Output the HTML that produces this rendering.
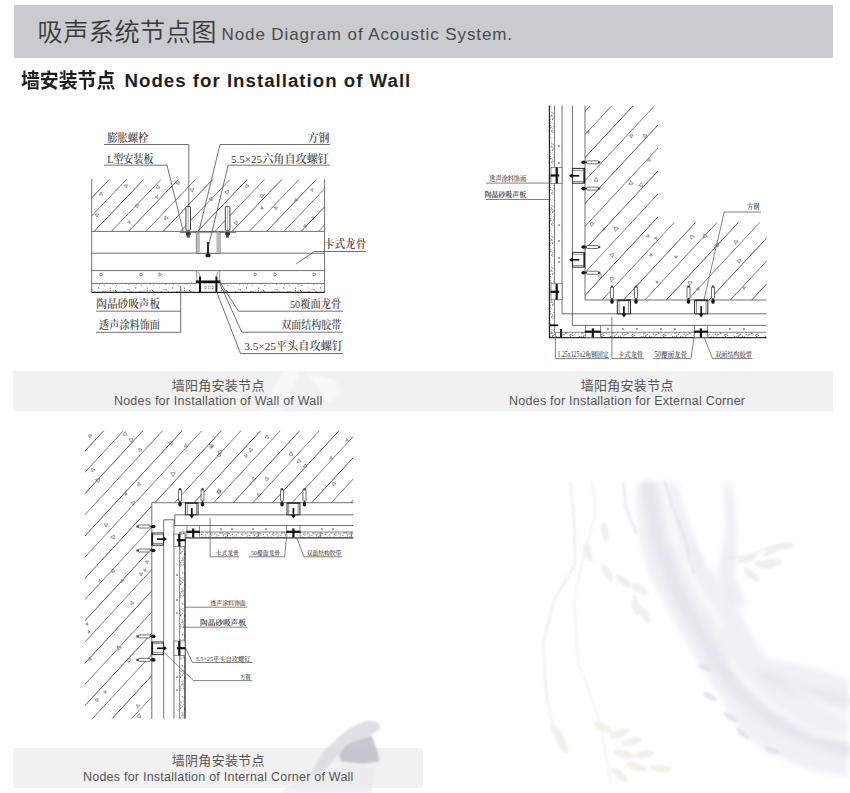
<!DOCTYPE html>
<html lang="zh-CN">
<head>
<meta charset="utf-8">
<title>吸声系统节点图 Node Diagram of Acoustic System</title>
<style>
html,body{margin:0;padding:0;background:#fff;}
body{width:850px;height:793px;position:relative;overflow:hidden;font-family:"Liberation Sans","Noto Sans CJK SC",sans-serif;color:#333;}
.hdr{position:absolute;left:14px;top:5px;width:819px;height:53px;background:#c9cbce;}
.hdr .cn{position:absolute;left:23.5px;top:11.5px;font-size:25.2px;line-height:30px;letter-spacing:0.45px;color:#3a3a3a;white-space:nowrap;font-weight:350;}
.hdr .en{position:absolute;left:207.5px;top:19.5px;font-size:17px;line-height:20px;letter-spacing:0.9px;color:#4a4a4a;white-space:nowrap;}
.h2{position:absolute;left:21px;top:66.5px;font-size:18.5px;line-height:28px;font-weight:bold;color:#1f1f1f;white-space:nowrap;}
.h2 .c{display:inline-block;font-size:20.5px;transform:scaleX(0.92);transform-origin:0 50%;width:93px;}
.h2 .e{letter-spacing:1.0px;margin-left:10.5px;font-size:18.7px;position:relative;top:-1px;}
.bar{position:absolute;background:#f1f1f1;}
.cap{position:absolute;z-index:2;text-align:center;white-space:nowrap;color:#444;}
.cap .c{position:absolute;left:0;width:300px;font-size:13px;line-height:16px;letter-spacing:0.3px;color:#555;}
.cap .e{position:absolute;left:0;width:300px;font-size:12.5px;line-height:16px;letter-spacing:0.23px;color:#555;}
svg{position:absolute;left:0;top:0;}
.wm{position:absolute;left:0;top:0;}
</style>
</head>
<body>
<div class="hdr"><span class="cn">吸声系统节点图</span><span class="en">Node Diagram of Acoustic System.</span></div>
<div class="h2"><span class="c">墙安装节点</span><span class="e">Nodes for Installation of Wall</span></div>

<div class="bar" style="left:13px;top:371px;width:820px;height:40px;"></div>
<div class="bar" style="left:13px;top:748px;width:410px;height:40px;border-radius:3px;"></div>
<svg width="850" height="793" viewBox="0 0 850 793">
<defs><filter id="b3" x="-20%" y="-20%" width="140%" height="140%"><feGaussianBlur stdDeviation="3"/></filter><filter id="b1" x="-20%" y="-20%" width="140%" height="140%"><feGaussianBlur stdDeviation="1.2"/></filter></defs>
<g filter="url(#b3)">
<path d="M635.9,482.4 L677.1,482.4 L687.4,519.4 L705.9,564.7 L730.6,593.5 L751.2,634.7 L767.6,659.4 L812.9,667.6 L847.9,677.9 L847.9,776.8 L812.9,770.6 L771.8,754.1 L742.9,733.5 L722.4,700.6 L693.5,655.3 L672.9,618.2 L648.2,572.9 L637.9,531.8 Z" fill="#eceef3" fill-opacity="0.85"/>
<path d="M648.2,486.5 L656.5,535.9 L677.1,589.4 L705.9,642.9 L738.8,692.4 L780.0,725.3 L845.9,750.0" fill="none" stroke="#e1e4ec" stroke-width="14" stroke-opacity="0.8" stroke-linecap="round" stroke-linejoin="round"/>
<path d="M763.5,675.9 L804.7,692.4 L845.9,700.6" fill="none" stroke="#e3e6ed" stroke-width="12" stroke-opacity="0.8" stroke-linecap="round" stroke-linejoin="round"/>
<path d="M664.7,486.5 L672.9,531.8 L693.5,581.2 L722.4,626.5" fill="none" stroke="#ffffff" stroke-width="5" stroke-opacity="0.7" stroke-linecap="round" stroke-linejoin="round"/>
<path d="M730.6,663.5 L763.5,700.6 L812.9,733.5 L845.9,737.6" fill="none" stroke="#ffffff" stroke-width="5" stroke-opacity="0.7" stroke-linecap="round" stroke-linejoin="round"/>
<path d="M788.2,684.1 L845.9,717.1" fill="none" stroke="#ffffff" stroke-width="4" stroke-opacity="0.6" stroke-linecap="round" stroke-linejoin="round"/>
<path d="M724.4,482.4 L731.4,482.4 L736.8,531.8 L734.7,577.1 L747.1,605.9 L730.6,605.9 L718.2,572.9 L725.6,531.8 Z" fill="#e6e8ee" fill-opacity="0.7"/>
</g>
<g filter="url(#b1)">
<path d="M570.0,482.4 L574.1,519.4 L574.9,564.7 L553.5,601.8 L543.2,642.9 L546.1,692.4 L555.6,737.6" fill="none" stroke="#ececf0" stroke-width="2.2" stroke-opacity="0.8" stroke-linecap="round" stroke-linejoin="round"/>
<path d="M592.6,482.4 L595.5,515.3 L584.4,552.4 L574.1,601.8 L578.2,663.5 L598.8,717.1 L611.2,782.9" fill="none" stroke="#eeeef2" stroke-width="1.8" stroke-opacity="0.8" stroke-linecap="round" stroke-linejoin="round"/>
<path d="M623.5,482.4 L625.6,507.1 L635.9,531.8" fill="none" stroke="#e8e9ee" stroke-width="3" stroke-opacity="0.8" stroke-linecap="round" stroke-linejoin="round"/>
<path d="M664.7,482.4 L672.9,507.1 L685.3,540.0 L693.5,572.9" fill="none" stroke="#e4e6ec" stroke-width="3" stroke-opacity="0.8" stroke-linecap="round" stroke-linejoin="round"/>
<path d="M722.4,558.5 L747.1,556.5 L771.8,546.2 L788.2,544.1" fill="none" stroke="#e9eaee" stroke-width="2" stroke-opacity="0.8" stroke-linecap="round" stroke-linejoin="round"/>
<ellipse cx="602.9" cy="727.3" rx="10.7" ry="3.7" transform="rotate(30 602.9 727.3)" fill="#f1eee8" fill-opacity="0.9"/>
<ellipse cx="619.4" cy="733.5" rx="10.7" ry="3.7" transform="rotate(-20 619.4 733.5)" fill="#f1eee8" fill-opacity="0.9"/>
<ellipse cx="631.8" cy="741.8" rx="10.7" ry="3.7" transform="rotate(-15 631.8 741.8)" fill="#f1eee8" fill-opacity="0.9"/>
<ellipse cx="623.5" cy="754.1" rx="10.7" ry="3.7" transform="rotate(10 623.5 754.1)" fill="#f1eee8" fill-opacity="0.9"/>
<ellipse cx="644.1" cy="754.1" rx="10.7" ry="3.7" transform="rotate(-10 644.1 754.1)" fill="#f1eee8" fill-opacity="0.9"/>
<ellipse cx="635.9" cy="766.5" rx="10.7" ry="3.7" transform="rotate(15 635.9 766.5)" fill="#f1eee8" fill-opacity="0.9"/>
<ellipse cx="660.6" cy="768.5" rx="10.7" ry="3.7" transform="rotate(5 660.6 768.5)" fill="#f1eee8" fill-opacity="0.9"/>
<ellipse cx="619.4" cy="774.7" rx="10.7" ry="3.7" transform="rotate(40 619.4 774.7)" fill="#f1eee8" fill-opacity="0.9"/>
<ellipse cx="557.6" cy="733.5" rx="10.7" ry="3.7" transform="rotate(50 557.6 733.5)" fill="#f1eee8" fill-opacity="0.9"/>
<ellipse cx="561.8" cy="743.8" rx="10.7" ry="3.7" transform="rotate(60 561.8 743.8)" fill="#f1eee8" fill-opacity="0.9"/>
<ellipse cx="747.1" cy="558.5" rx="9.9" ry="3.7" transform="rotate(-20 747.1 558.5)" fill="#f0eeea" fill-opacity="0.9"/>
<ellipse cx="763.5" cy="564.7" rx="9.9" ry="3.7" transform="rotate(10 763.5 564.7)" fill="#f0eeea" fill-opacity="0.9"/>
<ellipse cx="771.8" cy="550.3" rx="9.9" ry="3.7" transform="rotate(-30 771.8 550.3)" fill="#f0eeea" fill-opacity="0.9"/>
<ellipse cx="784.1" cy="546.2" rx="9.9" ry="3.7" transform="rotate(-10 784.1 546.2)" fill="#f0eeea" fill-opacity="0.9"/>
<ellipse cx="751.2" cy="575.0" rx="9.9" ry="3.7" transform="rotate(40 751.2 575.0)" fill="#f0eeea" fill-opacity="0.9"/>
<ellipse cx="771.8" cy="562.6" rx="9.9" ry="3.7" transform="rotate(0 771.8 562.6)" fill="#f0eeea" fill-opacity="0.9"/>
<ellipse cx="588.5" cy="552.4" rx="9.9" ry="3.7" transform="rotate(70 588.5 552.4)" fill="#eeeeee" fill-opacity="0.9"/>
<ellipse cx="607.1" cy="572.9" rx="9.9" ry="3.7" transform="rotate(60 607.1 572.9)" fill="#eeeeee" fill-opacity="0.9"/>
<ellipse cx="623.5" cy="581.2" rx="9.9" ry="3.7" transform="rotate(40 623.5 581.2)" fill="#eeeeee" fill-opacity="0.9"/>
<ellipse cx="640.0" cy="589.4" rx="9.9" ry="3.7" transform="rotate(30 640.0 589.4)" fill="#eeeeee" fill-opacity="0.9"/>
<ellipse cx="644.1" cy="614.1" rx="9.9" ry="3.7" transform="rotate(60 644.1 614.1)" fill="#eeeeee" fill-opacity="0.9"/>
<ellipse cx="635.9" cy="605.9" rx="9.9" ry="3.7" transform="rotate(80 635.9 605.9)" fill="#eeeeee" fill-opacity="0.9"/>
<ellipse cx="693.5" cy="564.7" rx="9.9" ry="3.7" transform="rotate(50 693.5 564.7)" fill="#eeeeee" fill-opacity="0.9"/>
<ellipse cx="697.6" cy="556.5" rx="9.9" ry="3.7" transform="rotate(60 697.6 556.5)" fill="#eeeeee" fill-opacity="0.9"/>
<ellipse cx="605.0" cy="531.8" rx="9.9" ry="3.7" transform="rotate(80 605.0 531.8)" fill="#eeeeee" fill-opacity="0.9"/>
<ellipse cx="705.9" cy="667.6" rx="8.2" ry="2.9" transform="rotate(20 705.9 667.6)" fill="#e2e4ea" fill-opacity="0.9"/>
<ellipse cx="710.0" cy="696.5" rx="8.2" ry="2.9" transform="rotate(30 710.0 696.5)" fill="#e2e4ea" fill-opacity="0.9"/>
<ellipse cx="730.6" cy="717.1" rx="8.2" ry="2.9" transform="rotate(30 730.6 717.1)" fill="#e2e4ea" fill-opacity="0.9"/>
<ellipse cx="771.8" cy="750.0" rx="8.2" ry="2.9" transform="rotate(20 771.8 750.0)" fill="#e2e4ea" fill-opacity="0.9"/>
<ellipse cx="742.9" cy="733.5" rx="8.2" ry="2.9" transform="rotate(40 742.9 733.5)" fill="#e2e4ea" fill-opacity="0.9"/>
</g>
<g filter="url(#b1)">
<path d="M308.2,776.7 L325.1,749.5 L348.3,728.8 L366.5,720.5 L378.1,722.3 L380.7,728.8 L363.9,737.9 L345.8,748.2 L335.4,757.3 L327.6,767.6 L317.3,778.0 Z" fill="#d9dae0" fill-opacity="0.85"/>
<path d="M339.3,754.7 L345.8,745.6 L371.6,735.3 L376.8,749.5 L379.4,761.2 L363.9,763.8 L340.6,761.2 Z" fill="#bcbdc7" fill-opacity="0.85"/>
<path d="M281.1,793.0 L291.4,783.2 L312.1,772.8 L358.7,765.1 L374.2,767.6 L371.6,793.0 Z" fill="#e9e9ec" fill-opacity="0.7"/>
</g>
<g filter="url(#b1)">
<path d="M262.0,411.0 L283.0,371.0 L300.0,371.0 L282.0,411.0 Z" fill="#fafafa" fill-opacity="0.8"/>
<path d="M305.0,373.0 L335.0,380.0 L342.0,392.0 L330.0,404.0 L318.0,388.0 Z" fill="#fafafa" fill-opacity="0.8"/>
</g>
</svg>
<div class="cap" style="left:68.2px;top:371px;width:300px;"><div class="c" style="top:6.5px">墙阳角安装节点</div><div class="e" style="top:22px">Nodes for Installation of Wall of Wall</div></div>
<div class="cap" style="left:477.2px;top:371px;width:300px;"><div class="c" style="top:6.5px">墙阳角安装节点</div><div class="e" style="top:22px">Nodes for Installation for External Corner</div></div>

<div class="cap" style="left:68.3px;top:747px;width:300px;"><div class="c" style="top:6px">墙阴角安装节点</div><div class="e" style="top:21.5px">Nodes for Installation of Internal Corner of Wall</div></div>

<svg width="850" height="793" viewBox="0 0 850 793">
<defs>
<pattern id="stip" width="37" height="37" patternUnits="userSpaceOnUse"><circle cx="12.0" cy="5.6" r="0.50" fill="#666"/><circle cx="2.7" cy="19.8" r="0.41" fill="#666"/><circle cx="2.1" cy="18.8" r="0.31" fill="#666"/><circle cx="16.0" cy="2.6" r="0.33" fill="#666"/><circle cx="15.7" cy="30.6" r="0.34" fill="#666"/><circle cx="8.3" cy="23.2" r="0.58" fill="#666"/><circle cx="21.4" cy="14.7" r="0.59" fill="#666"/><circle cx="1.7" cy="31.8" r="0.39" fill="#666"/><circle cx="5.3" cy="4.4" r="0.39" fill="#666"/><circle cx="30.2" cy="6.7" r="0.47" fill="#666"/><circle cx="23.6" cy="13.8" r="0.46" fill="#666"/><circle cx="2.3" cy="2.2" r="0.36" fill="#666"/><circle cx="25.2" cy="15.8" r="0.39" fill="#666"/><circle cx="21.7" cy="16.8" r="0.39" fill="#666"/><circle cx="29.4" cy="25.9" r="0.37" fill="#666"/><circle cx="21.3" cy="19.4" r="0.56" fill="#666"/><circle cx="27.0" cy="10.7" r="0.59" fill="#666"/><circle cx="4.4" cy="15.5" r="0.53" fill="#666"/><circle cx="5.6" cy="18.1" r="0.31" fill="#666"/><circle cx="24.7" cy="28.3" r="0.47" fill="#666"/><circle cx="32.4" cy="11.6" r="0.51" fill="#666"/><circle cx="22.0" cy="21.5" r="0.44" fill="#666"/><circle cx="31.1" cy="35.0" r="0.44" fill="#666"/><circle cx="24.6" cy="2.2" r="0.51" fill="#666"/><circle cx="23.9" cy="36.7" r="0.55" fill="#666"/><circle cx="10.5" cy="14.3" r="0.50" fill="#666"/><circle cx="0.8" cy="17.1" r="0.35" fill="#666"/><circle cx="4.3" cy="2.2" r="0.53" fill="#666"/><circle cx="4.8" cy="9.2" r="0.42" fill="#666"/><circle cx="32.2" cy="3.0" r="0.43" fill="#666"/><circle cx="20.3" cy="32.7" r="0.55" fill="#666"/><circle cx="32.0" cy="10.3" r="0.42" fill="#666"/><circle cx="13.3" cy="32.7" r="0.59" fill="#666"/><circle cx="5.6" cy="6.5" r="0.37" fill="#666"/><circle cx="8.6" cy="17.9" r="0.48" fill="#666"/><circle cx="9.7" cy="0.2" r="0.43" fill="#666"/><circle cx="13.7" cy="21.0" r="0.59" fill="#666"/><circle cx="25.5" cy="19.1" r="0.49" fill="#666"/><circle cx="25.0" cy="2.0" r="0.57" fill="#666"/><circle cx="28.9" cy="32.4" r="0.54" fill="#666"/><circle cx="14.5" cy="14.8" r="0.33" fill="#666"/><circle cx="23.5" cy="2.3" r="0.32" fill="#666"/><circle cx="7.7" cy="6.0" r="0.40" fill="#666"/><circle cx="1.9" cy="0.0" r="0.35" fill="#666"/><circle cx="3.8" cy="13.5" r="0.31" fill="#666"/><circle cx="32.4" cy="22.7" r="0.34" fill="#666"/><circle cx="9.3" cy="12.9" r="0.41" fill="#666"/><circle cx="4.5" cy="31.4" r="0.60" fill="#666"/><circle cx="17.2" cy="17.9" r="0.33" fill="#666"/><circle cx="3.8" cy="12.7" r="0.38" fill="#666"/><circle cx="30.7" cy="6.0" r="0.31" fill="#666"/><circle cx="35.2" cy="19.5" r="0.34" fill="#666"/><circle cx="20.1" cy="1.0" r="0.46" fill="#666"/><circle cx="36.2" cy="31.9" r="0.51" fill="#666"/><circle cx="9.7" cy="13.6" r="0.35" fill="#666"/><circle cx="28.6" cy="19.7" r="0.53" fill="#666"/><circle cx="12.2" cy="8.3" r="0.54" fill="#666"/><circle cx="36.4" cy="31.5" r="0.54" fill="#666"/><circle cx="30.3" cy="27.4" r="0.37" fill="#666"/><circle cx="19.2" cy="13.2" r="0.31" fill="#666"/><circle cx="1.0" cy="10.3" r="0.38" fill="#666"/><circle cx="25.6" cy="35.4" r="0.43" fill="#666"/><circle cx="34.7" cy="36.6" r="0.59" fill="#666"/><circle cx="13.5" cy="8.2" r="0.37" fill="#666"/><circle cx="7.3" cy="7.6" r="0.49" fill="#666"/><circle cx="33.3" cy="31.1" r="0.44" fill="#666"/><circle cx="24.2" cy="29.6" r="0.33" fill="#666"/><circle cx="24.4" cy="33.7" r="0.53" fill="#666"/><circle cx="27.8" cy="17.7" r="0.35" fill="#666"/><circle cx="29.2" cy="12.3" r="0.54" fill="#666"/><circle cx="36.0" cy="14.6" r="0.42" fill="#666"/><circle cx="35.0" cy="26.8" r="0.35" fill="#666"/><circle cx="4.7" cy="5.6" r="0.57" fill="#666"/><circle cx="29.8" cy="5.4" r="0.55" fill="#666"/><circle cx="36.3" cy="24.3" r="0.41" fill="#666"/><circle cx="20.3" cy="4.8" r="0.30" fill="#666"/><circle cx="35.9" cy="24.0" r="0.46" fill="#666"/><circle cx="34.5" cy="16.1" r="0.56" fill="#666"/><circle cx="30.6" cy="7.8" r="0.38" fill="#666"/><circle cx="10.8" cy="8.9" r="0.48" fill="#666"/><circle cx="9.6" cy="15.5" r="0.34" fill="#666"/><circle cx="33.7" cy="13.1" r="0.44" fill="#666"/><circle cx="21.6" cy="33.5" r="0.43" fill="#666"/><circle cx="34.0" cy="18.6" r="0.46" fill="#666"/><circle cx="19.4" cy="0.7" r="0.43" fill="#666"/><circle cx="6.8" cy="0.1" r="0.54" fill="#666"/><circle cx="6.4" cy="17.5" r="0.52" fill="#666"/><circle cx="20.6" cy="12.1" r="0.46" fill="#666"/><circle cx="20.6" cy="29.0" r="0.33" fill="#666"/><circle cx="20.7" cy="9.2" r="0.38" fill="#666"/><circle cx="28.6" cy="18.8" r="0.47" fill="#666"/><circle cx="28.1" cy="33.8" r="0.43" fill="#666"/><circle cx="22.7" cy="18.7" r="0.45" fill="#666"/><circle cx="25.6" cy="16.7" r="0.46" fill="#666"/><circle cx="17.7" cy="34.8" r="0.51" fill="#666"/><circle cx="32.4" cy="34.9" r="0.38" fill="#666"/><circle cx="20.7" cy="34.9" r="0.55" fill="#666"/><circle cx="5.1" cy="4.5" r="0.43" fill="#666"/><circle cx="2.7" cy="8.9" r="0.32" fill="#666"/><circle cx="24.8" cy="29.0" r="0.57" fill="#666"/><circle cx="5.7" cy="26.5" r="0.50" fill="#666"/><circle cx="5.3" cy="32.7" r="0.59" fill="#666"/><circle cx="8.1" cy="35.2" r="0.42" fill="#666"/><circle cx="18.0" cy="36.6" r="0.55" fill="#666"/><circle cx="6.0" cy="16.0" r="0.45" fill="#666"/><circle cx="12.5" cy="7.2" r="0.40" fill="#666"/><circle cx="26.7" cy="0.7" r="0.47" fill="#666"/><circle cx="16.3" cy="0.7" r="0.40" fill="#666"/><circle cx="23.1" cy="19.0" r="0.32" fill="#666"/><circle cx="36.4" cy="29.2" r="0.59" fill="#666"/><circle cx="3.9" cy="9.8" r="0.31" fill="#666"/><circle cx="28.8" cy="10.0" r="0.34" fill="#666"/><circle cx="15.6" cy="33.7" r="0.55" fill="#666"/><circle cx="9.6" cy="5.5" r="0.58" fill="#666"/><circle cx="21.1" cy="25.9" r="0.33" fill="#666"/><circle cx="2.1" cy="25.5" r="0.43" fill="#666"/><circle cx="2.7" cy="34.7" r="0.49" fill="#666"/><circle cx="29.7" cy="3.1" r="0.56" fill="#666"/><circle cx="2.5" cy="31.9" r="0.44" fill="#666"/><circle cx="12.5" cy="20.5" r="0.58" fill="#666"/><circle cx="9.9" cy="4.8" r="0.46" fill="#666"/><circle cx="8.8" cy="4.0" r="0.35" fill="#666"/><circle cx="1.9" cy="7.5" r="0.39" fill="#666"/><circle cx="11.3" cy="28.1" r="0.39" fill="#666"/><circle cx="18.5" cy="6.6" r="0.40" fill="#666"/><circle cx="0.7" cy="9.3" r="0.30" fill="#666"/><circle cx="27.1" cy="20.4" r="0.36" fill="#666"/><circle cx="17.6" cy="34.6" r="0.33" fill="#666"/><circle cx="30.3" cy="16.0" r="0.45" fill="#666"/><circle cx="30.9" cy="14.5" r="0.45" fill="#666"/><circle cx="25.4" cy="36.4" r="0.40" fill="#666"/><circle cx="30.8" cy="26.1" r="0.49" fill="#666"/><circle cx="15.0" cy="12.9" r="0.32" fill="#666"/><circle cx="4.8" cy="2.6" r="0.52" fill="#666"/><circle cx="9.5" cy="6.0" r="0.33" fill="#666"/><circle cx="31.1" cy="32.2" r="0.50" fill="#666"/><circle cx="10.4" cy="9.0" r="0.39" fill="#666"/><circle cx="17.0" cy="5.8" r="0.43" fill="#666"/><circle cx="9.7" cy="35.6" r="0.59" fill="#666"/><circle cx="20.2" cy="9.0" r="0.59" fill="#666"/><circle cx="11.5" cy="13.2" r="0.30" fill="#666"/><circle cx="14.1" cy="17.6" r="0.45" fill="#666"/><circle cx="7.4" cy="18.7" r="0.30" fill="#666"/><circle cx="9.8" cy="3.3" r="0.42" fill="#666"/><circle cx="1.5" cy="0.8" r="0.39" fill="#666"/><circle cx="8.6" cy="21.7" r="0.46" fill="#666"/><circle cx="27.8" cy="24.3" r="0.51" fill="#666"/><circle cx="32.5" cy="14.4" r="0.40" fill="#666"/><circle cx="36.4" cy="5.5" r="0.52" fill="#666"/><circle cx="23.8" cy="1.6" r="0.55" fill="#666"/><circle cx="33.0" cy="23.2" r="0.52" fill="#666"/><circle cx="30.1" cy="5.2" r="0.46" fill="#666"/><circle cx="18.7" cy="30.9" r="0.54" fill="#666"/><circle cx="30.6" cy="21.6" r="0.57" fill="#666"/><circle cx="25.3" cy="25.7" r="0.37" fill="#666"/><circle cx="1.2" cy="4.9" r="0.41" fill="#666"/><circle cx="3.9" cy="30.9" r="0.47" fill="#666"/><circle cx="23.2" cy="23.2" r="0.50" fill="#666"/><circle cx="18.1" cy="0.1" r="0.54" fill="#666"/><circle cx="27.7" cy="18.6" r="0.46" fill="#666"/><circle cx="24.4" cy="2.4" r="0.52" fill="#666"/><circle cx="9.3" cy="2.8" r="0.38" fill="#666"/><circle cx="27.0" cy="7.6" r="0.52" fill="#666"/><circle cx="36.1" cy="18.3" r="0.41" fill="#666"/><circle cx="17.7" cy="25.3" r="0.53" fill="#666"/><circle cx="22.8" cy="23.8" r="0.32" fill="#666"/><circle cx="5.5" cy="9.4" r="0.52" fill="#666"/><circle cx="11.3" cy="21.0" r="0.30" fill="#666"/><circle cx="2.2" cy="9.9" r="0.50" fill="#666"/><circle cx="25.6" cy="25.0" r="0.39" fill="#666"/><circle cx="19.1" cy="17.2" r="0.44" fill="#666"/><circle cx="4.4" cy="33.1" r="0.36" fill="#666"/><circle cx="36.2" cy="34.6" r="0.31" fill="#666"/><circle cx="17.0" cy="30.3" r="0.59" fill="#666"/><circle cx="16.6" cy="9.9" r="0.36" fill="#666"/><circle cx="35.0" cy="7.8" r="0.47" fill="#666"/><circle cx="5.2" cy="19.4" r="0.59" fill="#666"/></pattern>
<pattern id="stip2" width="31" height="31" patternUnits="userSpaceOnUse"><circle cx="4.1" cy="25.4" r="0.45" fill="#666"/><circle cx="27.5" cy="21.8" r="0.37" fill="#666"/><circle cx="27.8" cy="15.1" r="0.31" fill="#666"/><circle cx="0.1" cy="15.2" r="0.44" fill="#666"/><circle cx="9.4" cy="4.4" r="0.40" fill="#666"/><circle cx="9.8" cy="26.0" r="0.30" fill="#666"/><circle cx="23.3" cy="26.0" r="0.34" fill="#666"/><circle cx="28.7" cy="22.1" r="0.57" fill="#666"/><circle cx="9.0" cy="11.5" r="0.42" fill="#666"/><circle cx="31.0" cy="18.3" r="0.41" fill="#666"/><circle cx="13.3" cy="8.5" r="0.31" fill="#666"/><circle cx="3.2" cy="25.9" r="0.39" fill="#666"/><circle cx="29.0" cy="7.7" r="0.38" fill="#666"/><circle cx="15.8" cy="5.9" r="0.41" fill="#666"/><circle cx="29.6" cy="27.4" r="0.54" fill="#666"/><circle cx="19.6" cy="28.3" r="0.58" fill="#666"/><circle cx="17.0" cy="22.3" r="0.31" fill="#666"/><circle cx="22.7" cy="14.0" r="0.53" fill="#666"/><circle cx="20.0" cy="8.9" r="0.31" fill="#666"/><circle cx="28.7" cy="3.9" r="0.44" fill="#666"/><circle cx="10.7" cy="9.2" r="0.52" fill="#666"/><circle cx="30.3" cy="8.1" r="0.50" fill="#666"/><circle cx="9.3" cy="17.3" r="0.42" fill="#666"/><circle cx="5.2" cy="5.0" r="0.36" fill="#666"/><circle cx="28.1" cy="15.4" r="0.37" fill="#666"/><circle cx="28.1" cy="30.9" r="0.43" fill="#666"/><circle cx="4.3" cy="6.0" r="0.33" fill="#666"/><circle cx="10.6" cy="2.8" r="0.37" fill="#666"/><circle cx="8.0" cy="17.7" r="0.57" fill="#666"/><circle cx="23.2" cy="12.8" r="0.42" fill="#666"/><circle cx="16.2" cy="11.7" r="0.40" fill="#666"/><circle cx="1.9" cy="8.6" r="0.59" fill="#666"/><circle cx="3.9" cy="15.6" r="0.49" fill="#666"/><circle cx="26.7" cy="6.7" r="0.38" fill="#666"/><circle cx="7.7" cy="12.4" r="0.43" fill="#666"/><circle cx="29.6" cy="26.3" r="0.56" fill="#666"/><circle cx="0.7" cy="1.0" r="0.51" fill="#666"/><circle cx="27.8" cy="14.7" r="0.48" fill="#666"/><circle cx="0.0" cy="12.1" r="0.58" fill="#666"/><circle cx="25.6" cy="26.5" r="0.59" fill="#666"/><circle cx="7.7" cy="3.4" r="0.35" fill="#666"/><circle cx="16.2" cy="21.1" r="0.58" fill="#666"/><circle cx="22.4" cy="20.1" r="0.53" fill="#666"/><circle cx="14.2" cy="17.1" r="0.31" fill="#666"/><circle cx="24.3" cy="7.2" r="0.58" fill="#666"/><circle cx="20.0" cy="9.4" r="0.34" fill="#666"/><circle cx="7.8" cy="19.7" r="0.51" fill="#666"/><circle cx="3.5" cy="2.2" r="0.46" fill="#666"/><circle cx="18.1" cy="12.0" r="0.37" fill="#666"/><circle cx="18.6" cy="0.3" r="0.39" fill="#666"/><circle cx="14.3" cy="29.7" r="0.49" fill="#666"/><circle cx="27.4" cy="14.7" r="0.37" fill="#666"/><circle cx="7.7" cy="29.8" r="0.51" fill="#666"/><circle cx="9.5" cy="0.7" r="0.45" fill="#666"/><circle cx="20.9" cy="13.0" r="0.38" fill="#666"/><circle cx="20.7" cy="28.7" r="0.37" fill="#666"/><circle cx="1.1" cy="10.5" r="0.43" fill="#666"/><circle cx="21.2" cy="6.1" r="0.54" fill="#666"/><circle cx="22.9" cy="15.7" r="0.36" fill="#666"/><circle cx="30.1" cy="9.7" r="0.55" fill="#666"/><circle cx="7.2" cy="6.9" r="0.53" fill="#666"/><circle cx="9.1" cy="29.5" r="0.45" fill="#666"/><circle cx="5.8" cy="6.9" r="0.43" fill="#666"/><circle cx="20.6" cy="29.4" r="0.34" fill="#666"/><circle cx="12.2" cy="6.6" r="0.59" fill="#666"/><circle cx="4.4" cy="1.6" r="0.32" fill="#666"/><circle cx="12.2" cy="27.8" r="0.57" fill="#666"/><circle cx="22.7" cy="30.9" r="0.58" fill="#666"/><circle cx="10.2" cy="5.8" r="0.58" fill="#666"/><circle cx="23.1" cy="1.0" r="0.50" fill="#666"/><circle cx="11.7" cy="11.6" r="0.40" fill="#666"/><circle cx="5.2" cy="0.1" r="0.38" fill="#666"/><circle cx="10.9" cy="29.6" r="0.34" fill="#666"/><circle cx="29.9" cy="6.4" r="0.41" fill="#666"/><circle cx="25.5" cy="25.5" r="0.43" fill="#666"/><circle cx="1.5" cy="14.7" r="0.41" fill="#666"/><circle cx="28.5" cy="6.0" r="0.41" fill="#666"/><circle cx="27.8" cy="0.9" r="0.42" fill="#666"/><circle cx="25.2" cy="23.8" r="0.31" fill="#666"/><circle cx="1.1" cy="1.9" r="0.58" fill="#666"/><circle cx="8.0" cy="23.2" r="0.57" fill="#666"/><circle cx="10.5" cy="8.4" r="0.59" fill="#666"/><circle cx="19.1" cy="8.1" r="0.51" fill="#666"/><circle cx="9.8" cy="8.5" r="0.30" fill="#666"/><circle cx="23.4" cy="28.4" r="0.49" fill="#666"/><circle cx="29.2" cy="0.8" r="0.37" fill="#666"/><circle cx="14.7" cy="29.7" r="0.59" fill="#666"/><circle cx="12.0" cy="7.8" r="0.43" fill="#666"/><circle cx="15.3" cy="28.8" r="0.35" fill="#666"/><circle cx="24.9" cy="22.9" r="0.55" fill="#666"/><circle cx="24.0" cy="18.8" r="0.40" fill="#666"/><circle cx="9.9" cy="11.2" r="0.53" fill="#666"/><circle cx="2.4" cy="6.1" r="0.53" fill="#666"/><circle cx="7.7" cy="2.0" r="0.31" fill="#666"/><circle cx="17.1" cy="10.1" r="0.59" fill="#666"/><circle cx="27.4" cy="30.6" r="0.38" fill="#666"/><circle cx="2.6" cy="3.0" r="0.45" fill="#666"/><circle cx="22.0" cy="13.9" r="0.37" fill="#666"/><circle cx="12.9" cy="19.2" r="0.50" fill="#666"/><circle cx="23.2" cy="26.3" r="0.50" fill="#666"/><circle cx="3.8" cy="26.1" r="0.39" fill="#666"/><circle cx="17.6" cy="11.6" r="0.52" fill="#666"/><circle cx="6.2" cy="7.7" r="0.37" fill="#666"/><circle cx="4.8" cy="27.4" r="0.47" fill="#666"/><circle cx="10.1" cy="12.3" r="0.60" fill="#666"/><circle cx="15.7" cy="7.2" r="0.54" fill="#666"/><circle cx="20.3" cy="30.7" r="0.33" fill="#666"/><circle cx="14.7" cy="25.4" r="0.55" fill="#666"/><circle cx="28.3" cy="1.3" r="0.39" fill="#666"/><circle cx="3.7" cy="5.9" r="0.59" fill="#666"/><circle cx="18.1" cy="28.8" r="0.41" fill="#666"/><circle cx="26.8" cy="13.9" r="0.38" fill="#666"/><circle cx="24.1" cy="29.3" r="0.33" fill="#666"/><circle cx="18.5" cy="19.2" r="0.37" fill="#666"/><circle cx="11.4" cy="4.4" r="0.36" fill="#666"/><circle cx="7.9" cy="18.6" r="0.50" fill="#666"/><circle cx="6.3" cy="0.4" r="0.40" fill="#666"/><circle cx="21.0" cy="5.7" r="0.39" fill="#666"/><circle cx="6.3" cy="24.7" r="0.46" fill="#666"/><circle cx="2.0" cy="3.1" r="0.42" fill="#666"/><circle cx="17.1" cy="19.8" r="0.33" fill="#666"/><circle cx="5.1" cy="21.6" r="0.42" fill="#666"/><circle cx="8.8" cy="9.5" r="0.59" fill="#666"/><circle cx="9.7" cy="17.6" r="0.41" fill="#666"/><circle cx="12.9" cy="26.8" r="0.60" fill="#666"/><circle cx="11.3" cy="6.1" r="0.52" fill="#666"/><circle cx="6.3" cy="0.2" r="0.57" fill="#666"/><circle cx="13.1" cy="25.4" r="0.42" fill="#666"/><circle cx="27.4" cy="14.3" r="0.35" fill="#666"/><circle cx="0.5" cy="17.1" r="0.49" fill="#666"/><circle cx="28.2" cy="2.8" r="0.49" fill="#666"/><circle cx="11.5" cy="15.6" r="0.34" fill="#666"/><circle cx="8.8" cy="16.2" r="0.58" fill="#666"/><circle cx="3.4" cy="15.2" r="0.54" fill="#666"/><circle cx="30.0" cy="6.1" r="0.34" fill="#666"/><circle cx="29.2" cy="30.2" r="0.44" fill="#666"/><circle cx="1.7" cy="28.7" r="0.42" fill="#666"/><circle cx="28.0" cy="19.2" r="0.55" fill="#666"/><circle cx="5.0" cy="24.4" r="0.37" fill="#666"/><circle cx="12.5" cy="26.2" r="0.55" fill="#666"/><circle cx="5.7" cy="6.8" r="0.42" fill="#666"/><circle cx="16.1" cy="11.9" r="0.34" fill="#666"/><circle cx="7.7" cy="22.5" r="0.57" fill="#666"/><circle cx="1.3" cy="17.4" r="0.53" fill="#666"/><circle cx="1.2" cy="26.0" r="0.34" fill="#666"/><circle cx="18.6" cy="17.1" r="0.49" fill="#666"/><circle cx="9.5" cy="13.0" r="0.47" fill="#666"/><circle cx="13.2" cy="20.4" r="0.43" fill="#666"/><circle cx="13.6" cy="0.7" r="0.49" fill="#666"/><circle cx="15.2" cy="7.3" r="0.53" fill="#666"/><circle cx="24.2" cy="14.2" r="0.35" fill="#666"/><circle cx="14.7" cy="3.3" r="0.34" fill="#666"/><circle cx="13.3" cy="2.8" r="0.43" fill="#666"/><circle cx="15.8" cy="1.3" r="0.49" fill="#666"/><circle cx="2.5" cy="22.7" r="0.53" fill="#666"/><circle cx="15.9" cy="1.7" r="0.45" fill="#666"/><circle cx="11.7" cy="29.5" r="0.34" fill="#666"/><circle cx="26.6" cy="30.9" r="0.52" fill="#666"/><circle cx="25.3" cy="6.0" r="0.59" fill="#666"/><circle cx="15.2" cy="29.7" r="0.57" fill="#666"/><circle cx="5.1" cy="24.4" r="0.58" fill="#666"/><circle cx="2.0" cy="10.9" r="0.53" fill="#666"/><circle cx="4.9" cy="27.8" r="0.38" fill="#666"/><circle cx="25.3" cy="4.5" r="0.45" fill="#666"/><circle cx="28.5" cy="6.5" r="0.38" fill="#666"/><circle cx="15.7" cy="9.9" r="0.31" fill="#666"/><circle cx="5.6" cy="5.0" r="0.58" fill="#666"/><circle cx="21.1" cy="27.8" r="0.35" fill="#666"/><circle cx="24.3" cy="3.6" r="0.46" fill="#666"/><circle cx="19.7" cy="11.2" r="0.56" fill="#666"/><circle cx="17.2" cy="18.0" r="0.56" fill="#666"/><circle cx="3.2" cy="30.8" r="0.49" fill="#666"/><circle cx="12.2" cy="24.7" r="0.38" fill="#666"/><circle cx="30.7" cy="17.9" r="0.41" fill="#666"/><circle cx="23.7" cy="13.7" r="0.35" fill="#666"/><circle cx="23.1" cy="1.5" r="0.55" fill="#666"/><circle cx="7.9" cy="19.8" r="0.60" fill="#666"/><circle cx="18.2" cy="20.6" r="0.39" fill="#666"/><circle cx="0.1" cy="1.0" r="0.34" fill="#666"/><circle cx="19.1" cy="13.4" r="0.45" fill="#666"/><circle cx="27.8" cy="4.1" r="0.37" fill="#666"/><circle cx="20.2" cy="0.7" r="0.30" fill="#666"/><circle cx="11.0" cy="3.3" r="0.41" fill="#666"/><circle cx="7.0" cy="18.1" r="0.48" fill="#666"/><circle cx="6.3" cy="19.3" r="0.44" fill="#666"/><circle cx="4.2" cy="29.0" r="0.37" fill="#666"/><circle cx="4.6" cy="3.0" r="0.49" fill="#666"/><circle cx="27.0" cy="24.2" r="0.42" fill="#666"/><circle cx="8.2" cy="0.4" r="0.49" fill="#666"/><circle cx="17.4" cy="10.9" r="0.49" fill="#666"/><circle cx="13.8" cy="29.1" r="0.52" fill="#666"/><circle cx="7.7" cy="28.0" r="0.31" fill="#666"/><circle cx="16.5" cy="12.6" r="0.37" fill="#666"/><circle cx="1.8" cy="24.1" r="0.30" fill="#666"/><circle cx="17.1" cy="29.2" r="0.34" fill="#666"/><circle cx="6.2" cy="18.9" r="0.45" fill="#666"/><circle cx="19.9" cy="25.2" r="0.35" fill="#666"/><circle cx="9.6" cy="9.3" r="0.31" fill="#666"/><circle cx="27.6" cy="24.3" r="0.51" fill="#666"/><circle cx="0.2" cy="26.2" r="0.52" fill="#666"/><circle cx="14.4" cy="23.0" r="0.44" fill="#666"/><circle cx="7.0" cy="3.3" r="0.37" fill="#666"/><circle cx="1.2" cy="10.4" r="0.52" fill="#666"/><circle cx="21.5" cy="26.2" r="0.51" fill="#666"/><circle cx="8.2" cy="17.2" r="0.43" fill="#666"/><circle cx="24.4" cy="16.2" r="0.38" fill="#666"/><circle cx="19.9" cy="29.9" r="0.37" fill="#666"/><circle cx="27.3" cy="0.5" r="0.38" fill="#666"/><circle cx="7.3" cy="23.1" r="0.58" fill="#666"/><circle cx="23.1" cy="10.1" r="0.56" fill="#666"/><circle cx="10.2" cy="7.4" r="0.57" fill="#666"/><circle cx="19.6" cy="21.5" r="0.50" fill="#666"/><circle cx="30.3" cy="14.6" r="0.55" fill="#666"/><circle cx="21.6" cy="26.6" r="0.43" fill="#666"/><circle cx="22.5" cy="17.7" r="0.39" fill="#666"/><circle cx="6.6" cy="19.3" r="0.32" fill="#666"/><circle cx="28.2" cy="4.5" r="0.31" fill="#666"/><circle cx="3.3" cy="28.8" r="0.40" fill="#666"/><circle cx="4.4" cy="0.9" r="0.31" fill="#666"/><circle cx="21.5" cy="19.7" r="0.51" fill="#666"/><circle cx="22.8" cy="2.0" r="0.48" fill="#666"/><circle cx="11.3" cy="25.3" r="0.55" fill="#666"/><circle cx="27.6" cy="2.0" r="0.56" fill="#666"/><circle cx="28.3" cy="29.3" r="0.33" fill="#666"/><circle cx="6.4" cy="3.5" r="0.31" fill="#666"/><circle cx="26.3" cy="25.2" r="0.49" fill="#666"/><circle cx="25.6" cy="19.6" r="0.39" fill="#666"/><circle cx="3.1" cy="3.0" r="0.53" fill="#666"/><circle cx="6.4" cy="9.9" r="0.43" fill="#666"/><circle cx="0.6" cy="8.0" r="0.38" fill="#666"/><circle cx="22.2" cy="11.4" r="0.40" fill="#666"/><circle cx="29.9" cy="15.6" r="0.56" fill="#666"/><circle cx="19.2" cy="1.0" r="0.42" fill="#666"/><circle cx="13.5" cy="24.0" r="0.40" fill="#666"/><circle cx="21.8" cy="16.7" r="0.36" fill="#666"/><circle cx="26.7" cy="2.8" r="0.55" fill="#666"/><circle cx="5.3" cy="0.0" r="0.36" fill="#666"/><circle cx="23.6" cy="30.3" r="0.30" fill="#666"/><circle cx="15.2" cy="15.2" r="0.54" fill="#666"/><circle cx="5.7" cy="15.3" r="0.40" fill="#666"/><circle cx="25.8" cy="8.1" r="0.58" fill="#666"/><circle cx="8.8" cy="6.7" r="0.51" fill="#666"/><circle cx="15.4" cy="3.4" r="0.49" fill="#666"/><circle cx="2.5" cy="24.4" r="0.51" fill="#666"/><circle cx="24.4" cy="19.5" r="0.41" fill="#666"/><circle cx="12.4" cy="12.2" r="0.57" fill="#666"/><circle cx="2.7" cy="27.5" r="0.31" fill="#666"/><circle cx="6.4" cy="8.2" r="0.57" fill="#666"/><circle cx="15.5" cy="11.8" r="0.57" fill="#666"/><circle cx="7.2" cy="14.3" r="0.46" fill="#666"/><circle cx="23.4" cy="23.3" r="0.49" fill="#666"/><circle cx="10.8" cy="10.1" r="0.35" fill="#666"/><circle cx="26.1" cy="20.5" r="0.52" fill="#666"/><circle cx="5.3" cy="13.6" r="0.53" fill="#666"/><circle cx="18.0" cy="3.9" r="0.44" fill="#666"/><circle cx="27.4" cy="7.4" r="0.36" fill="#666"/><circle cx="9.3" cy="21.8" r="0.55" fill="#666"/><circle cx="4.8" cy="4.8" r="0.37" fill="#666"/><circle cx="10.1" cy="16.2" r="0.35" fill="#666"/><circle cx="10.2" cy="5.9" r="0.59" fill="#666"/><circle cx="22.6" cy="3.2" r="0.59" fill="#666"/><circle cx="3.2" cy="11.9" r="0.60" fill="#666"/><circle cx="24.6" cy="22.7" r="0.43" fill="#666"/><circle cx="6.1" cy="19.8" r="0.33" fill="#666"/><circle cx="6.4" cy="12.0" r="0.31" fill="#666"/><circle cx="12.4" cy="24.5" r="0.51" fill="#666"/><circle cx="15.5" cy="19.6" r="0.44" fill="#666"/><circle cx="4.4" cy="18.7" r="0.42" fill="#666"/><circle cx="23.0" cy="28.1" r="0.43" fill="#666"/><circle cx="17.8" cy="23.2" r="0.43" fill="#666"/><circle cx="7.1" cy="22.4" r="0.56" fill="#666"/><circle cx="24.0" cy="21.7" r="0.56" fill="#666"/><circle cx="21.1" cy="19.9" r="0.44" fill="#666"/><circle cx="9.7" cy="19.5" r="0.33" fill="#666"/><circle cx="13.0" cy="24.3" r="0.51" fill="#666"/><circle cx="19.5" cy="7.8" r="0.43" fill="#666"/><circle cx="14.1" cy="19.3" r="0.42" fill="#666"/><circle cx="20.9" cy="28.8" r="0.35" fill="#666"/><circle cx="20.3" cy="24.1" r="0.42" fill="#666"/><circle cx="15.2" cy="30.2" r="0.31" fill="#666"/><circle cx="16.8" cy="5.0" r="0.53" fill="#666"/><circle cx="29.2" cy="16.1" r="0.33" fill="#666"/><circle cx="17.8" cy="16.8" r="0.52" fill="#666"/><circle cx="15.9" cy="19.8" r="0.55" fill="#666"/><circle cx="16.2" cy="12.7" r="0.58" fill="#666"/><circle cx="6.5" cy="21.2" r="0.42" fill="#666"/><circle cx="23.6" cy="3.8" r="0.60" fill="#666"/><circle cx="11.0" cy="1.8" r="0.38" fill="#666"/></pattern>
<clipPath id="hc1"><polygon points="91.7,179.3 324.6,179.3 324.6,231.4 91.7,231.4"/></clipPath>
<clipPath id="hc2"><polygon points="585.0,105.6 658.0,105.6 658.0,222.5 766.6,222.5 766.6,300.0 585.0,300.0"/></clipPath>
<clipPath id="hc3"><polygon points="85.0,430.5 353.3,430.5 353.3,502.7 151.8,502.7 151.8,718.7 85.0,718.7"/></clipPath>
</defs>
<g clip-path="url(#hc1)">
<line x1="42.3" y1="231.4" x2="92.2" y2="179.3" stroke="#555" stroke-width="0.765" />
<line x1="59.6" y1="231.4" x2="109.4" y2="179.3" stroke="#3a3a3a" stroke-width="0.85" />
<line x1="76.8" y1="231.4" x2="126.7" y2="179.3" stroke="#555" stroke-width="0.765" />
<line x1="94.1" y1="231.4" x2="143.9" y2="179.3" stroke="#3a3a3a" stroke-width="0.85" />
<line x1="111.3" y1="231.4" x2="161.2" y2="179.3" stroke="#555" stroke-width="0.765" />
<line x1="128.6" y1="231.4" x2="178.4" y2="179.3" stroke="#3a3a3a" stroke-width="0.85" />
<line x1="145.8" y1="231.4" x2="195.7" y2="179.3" stroke="#555" stroke-width="0.765" />
<line x1="163.1" y1="231.4" x2="212.9" y2="179.3" stroke="#3a3a3a" stroke-width="0.85" />
<line x1="180.3" y1="231.4" x2="230.2" y2="179.3" stroke="#555" stroke-width="0.765" />
<line x1="197.6" y1="231.4" x2="247.4" y2="179.3" stroke="#3a3a3a" stroke-width="0.85" />
<line x1="214.8" y1="231.4" x2="264.7" y2="179.3" stroke="#555" stroke-width="0.765" />
<line x1="232.1" y1="231.4" x2="281.9" y2="179.3" stroke="#3a3a3a" stroke-width="0.85" />
<line x1="249.3" y1="231.4" x2="299.2" y2="179.3" stroke="#555" stroke-width="0.765" />
<line x1="266.6" y1="231.4" x2="316.4" y2="179.3" stroke="#3a3a3a" stroke-width="0.85" />
<line x1="283.9" y1="231.4" x2="333.7" y2="179.3" stroke="#555" stroke-width="0.765" />
<line x1="301.1" y1="231.4" x2="350.9" y2="179.3" stroke="#3a3a3a" stroke-width="0.85" />
<line x1="318.4" y1="231.4" x2="368.2" y2="179.3" stroke="#555" stroke-width="0.765" />
</g>
<line x1="91.7" y1="179.3" x2="91.7" y2="292.4" stroke="#4d4d4d" stroke-width="0.8" />
<line x1="324.6" y1="179.3" x2="324.6" y2="292.4" stroke="#4d4d4d" stroke-width="0.8" />
<line x1="91.7" y1="231.4" x2="324.6" y2="231.4" stroke="#4d4d4d" stroke-width="0.8" />
<line x1="91.7" y1="253.2" x2="324.6" y2="253.2" stroke="#4d4d4d" stroke-width="0.8" />
<line x1="91.7" y1="270.6" x2="324.6" y2="270.6" stroke="#4d4d4d" stroke-width="0.8" />
<line x1="91.7" y1="283.4" x2="324.6" y2="283.4" stroke="#4d4d4d" stroke-width="0.8" />
<rect x="91.7" y="283.4" width="232.9" height="9.0" fill="url(#stip)" />
<line x1="91.7" y1="292.4" x2="324.6" y2="292.4" stroke="#222" stroke-width="1.3" />
<polygon points="101.1,192.1 102.6,195.0 99.4,194.9" fill="none" stroke="#555" stroke-width="0.6"/>
<polygon points="127.4,184.8 126.3,187.9 124.2,185.3" fill="none" stroke="#555" stroke-width="0.6"/>
<polygon points="138.4,204.4 137.6,208.0 134.9,205.5" fill="none" stroke="#555" stroke-width="0.6"/>
<polygon points="157.8,195.4 157.9,198.5 155.3,197.1" fill="none" stroke="#555" stroke-width="0.6"/>
<polygon points="160.0,187.8 156.3,188.3 157.7,184.8" fill="none" stroke="#555" stroke-width="0.6"/>
<polygon points="178.9,181.2 179.1,184.6 176.0,183.1" fill="none" stroke="#555" stroke-width="0.6"/>
<polygon points="193.6,188.5 192.5,192.2 189.9,189.3" fill="none" stroke="#555" stroke-width="0.6"/>
<polygon points="129.5,220.4 130.2,223.2 127.4,222.4" fill="none" stroke="#555" stroke-width="0.6"/>
<polygon points="168.2,218.3 164.7,219.8 165.1,216.0" fill="none" stroke="#555" stroke-width="0.6"/>
<polygon points="98.7,213.9 97.1,217.1 95.1,214.1" fill="none" stroke="#555" stroke-width="0.6"/>
<polygon points="211.9,197.2 212.1,200.7 209.0,199.1" fill="none" stroke="#555" stroke-width="0.6"/>
<polygon points="228.6,190.3 227.7,194.3 224.7,191.5" fill="none" stroke="#555" stroke-width="0.6"/>
<polygon points="249.1,186.3 245.7,187.6 246.2,184.1" fill="none" stroke="#555" stroke-width="0.6"/>
<polygon points="263.9,194.8 262.1,198.2 260.0,195.0" fill="none" stroke="#555" stroke-width="0.6"/>
<polygon points="277.6,207.3 275.8,209.8 274.6,207.0" fill="none" stroke="#555" stroke-width="0.6"/>
<polygon points="263.6,208.3 261.0,209.2 261.4,206.5" fill="none" stroke="#555" stroke-width="0.6"/>
<polygon points="297.8,200.4 294.8,201.4 295.4,198.3" fill="none" stroke="#555" stroke-width="0.6"/>
<polygon points="313.2,188.8 312.4,191.7 310.3,189.5" fill="none" stroke="#555" stroke-width="0.6"/>
<polygon points="314.3,216.9 313.3,219.7 311.4,217.4" fill="none" stroke="#555" stroke-width="0.6"/>
<polygon points="305.0,224.3 306.4,226.8 303.6,226.8" fill="none" stroke="#555" stroke-width="0.6"/>
<polygon points="237.2,221.2 237.0,224.9 233.9,222.9" fill="none" stroke="#555" stroke-width="0.6"/>
<polygon points="103.0,274.5 100.0,276.2 100.0,272.8" fill="none" stroke="#555" stroke-width="0.6"/>
<polygon points="143.0,274.5 140.0,276.2 140.0,272.8" fill="none" stroke="#555" stroke-width="0.6"/>
<polygon points="162.0,274.5 159.0,276.2 159.0,272.8" fill="none" stroke="#555" stroke-width="0.6"/>
<polygon points="257.0,274.5 254.0,276.2 254.0,272.8" fill="none" stroke="#555" stroke-width="0.6"/>
<polygon points="277.0,274.5 274.0,276.2 274.0,272.8" fill="none" stroke="#555" stroke-width="0.6"/>
<polygon points="316.0,274.5 313.0,276.2 313.0,272.8" fill="none" stroke="#555" stroke-width="0.6"/>
<rect x="185.9" y="206.4" width="4.6" height="24.0" rx="1.2" fill="#fff" stroke="#2a2a2a" stroke-width="0.9"/>
<line x1="188.2" y1="207.4" x2="188.2" y2="236.4" stroke="#777" stroke-width="0.6" />
<rect x="185.8" y="232.0" width="4.8" height="3.0" fill="#2a2a2a" />
<rect x="186.6" y="235.0" width="3.2" height="2.8" fill="#555" />
<rect x="225.3" y="206.4" width="4.6" height="24.0" rx="1.2" fill="#fff" stroke="#2a2a2a" stroke-width="0.9"/>
<line x1="227.6" y1="207.4" x2="227.6" y2="236.4" stroke="#777" stroke-width="0.6" />
<rect x="225.2" y="232.0" width="4.8" height="3.0" fill="#2a2a2a" />
<rect x="226.0" y="235.0" width="3.2" height="2.8" fill="#555" />
<line x1="180.0" y1="232.4" x2="196.3" y2="232.4" stroke="#4d4d4d" stroke-width="0.8" />
<line x1="220.0" y1="232.4" x2="236.0" y2="232.4" stroke="#4d4d4d" stroke-width="0.8" />
<rect x="196.3" y="231.4" width="23.7" height="21.8" fill="#fff" stroke="#4d4d4d" stroke-width="0.8"/>
<rect x="196.6" y="231.8" width="3.3" height="21.0" fill="#bbb" />
<rect x="216.4" y="231.8" width="3.3" height="21.0" fill="#bbb" />
<line x1="196.3" y1="232.6" x2="220.0" y2="232.6" stroke="#999" stroke-width="1.0" />
<line x1="208.0" y1="242.0" x2="208.0" y2="255.5" stroke="#111" stroke-width="1.8" />
<ellipse cx="208" cy="255.4" rx="2.6" ry="1.9" fill="#111"/>
<polyline points="196.3,270.6 197.3,283.4 199.0,283.4" fill="none" stroke="#4d4d4d" stroke-width="0.6"/>
<polyline points="220.0,270.6 219.0,283.4 217.3,283.4" fill="none" stroke="#4d4d4d" stroke-width="0.6"/>
<polyline points="198.2,271.6 200.0,276.5" fill="none" stroke="#4d4d4d" stroke-width="0.6"/>
<polyline points="218.1,271.6 216.3,276.5" fill="none" stroke="#4d4d4d" stroke-width="0.6"/>
<rect x="196.3" y="283.4" width="23.7" height="9.0" fill="#fff" />
<line x1="195.8" y1="281.8" x2="220.5" y2="281.8" stroke="#111" stroke-width="2.6" />
<line x1="200.0" y1="276.5" x2="200.0" y2="292.4" stroke="#111" stroke-width="2.0" />
<line x1="216.4" y1="276.5" x2="216.4" y2="292.4" stroke="#111" stroke-width="2.0" />
<rect x="205.0" y="286.0" width="1.6" height="3.0" fill="none" stroke="#777" stroke-width="0.4"/>
<rect x="208.5" y="286.0" width="1.6" height="3.0" fill="none" stroke="#777" stroke-width="0.4"/>
<rect x="212.0" y="286.0" width="1.6" height="3.0" fill="none" stroke="#777" stroke-width="0.4"/>
<line x1="196.3" y1="292.4" x2="220.0" y2="292.4" stroke="#222" stroke-width="1.3" />
<text x="107.2" y="141.6" font-size="11" font-family='"Liberation Serif","Noto Serif CJK SC",serif' font-weight="500" fill="#333" text-anchor="start" textLength="41.2" lengthAdjust="spacingAndGlyphs">膨胀螺栓</text>
<polyline points="104.0,144.5 188.8,144.5 188.8,207.0" fill="none" stroke="#4d4d4d" stroke-width="0.8"/>
<text x="107.2" y="162.6" font-size="11" font-family='"Liberation Serif","Noto Serif CJK SC",serif' font-weight="500" fill="#333" text-anchor="start" textLength="46.3" lengthAdjust="spacingAndGlyphs">L型安装板</text>
<polyline points="104.0,165.2 167.0,165.2 183.2,231.0" fill="none" stroke="#4d4d4d" stroke-width="0.8"/>
<text x="307.6" y="141.6" font-size="11" font-family='"Liberation Serif","Noto Serif CJK SC",serif' font-weight="500" fill="#333" text-anchor="start" textLength="21.9" lengthAdjust="spacingAndGlyphs">方钢</text>
<polyline points="329.9,144.5 220.0,144.5 199.0,231.0" fill="none" stroke="#4d4d4d" stroke-width="0.8"/>
<text x="230.9" y="162.6" font-size="11" font-family='"Liberation Serif","Noto Serif CJK SC",serif' font-weight="500" fill="#333" text-anchor="start" textLength="98.0" lengthAdjust="spacingAndGlyphs">5.5×25六角自攻螺钉</text>
<polyline points="329.9,165.2 228.2,165.2 208.5,246.0" fill="none" stroke="#4d4d4d" stroke-width="0.8"/>
<text x="323.8" y="247.6" font-size="11" font-family='"Liberation Serif","Noto Serif CJK SC",serif' font-weight="500" fill="#333" text-anchor="start" textLength="42.5" lengthAdjust="spacingAndGlyphs">卡式龙骨</text>
<polyline points="366.0,251.5 314.4,251.5 296.0,264.0" fill="none" stroke="#4d4d4d" stroke-width="0.8"/>
<text x="96.3" y="308.0" font-size="11" font-family='"Liberation Serif","Noto Serif CJK SC",serif' font-weight="500" fill="#333" text-anchor="start" textLength="63.7" lengthAdjust="spacingAndGlyphs">陶晶砂吸声板</text>
<polyline points="96.0,311.2 180.7,311.2" fill="none" stroke="#4d4d4d" stroke-width="0.8"/>
<text x="99.1" y="329.0" font-size="11" font-family='"Liberation Serif","Noto Serif CJK SC",serif' font-weight="500" fill="#333" text-anchor="start" textLength="60.9" lengthAdjust="spacingAndGlyphs">透声涂料饰面</text>
<polyline points="96.0,332.3 180.7,332.3 180.7,286.0" fill="none" stroke="#4d4d4d" stroke-width="0.8"/>
<text x="290.0" y="308.0" font-size="11" font-family='"Liberation Serif","Noto Serif CJK SC",serif' font-weight="500" fill="#333" text-anchor="start" textLength="51.2" lengthAdjust="spacingAndGlyphs">50覆面龙骨</text>
<polyline points="343.0,311.2 238.6,311.2 218.8,280.5" fill="none" stroke="#4d4d4d" stroke-width="0.8"/>
<text x="281.2" y="329.0" font-size="11" font-family='"Liberation Serif","Noto Serif CJK SC",serif' font-weight="500" fill="#333" text-anchor="start" textLength="60.0" lengthAdjust="spacingAndGlyphs">双面结构胶带</text>
<polyline points="343.0,332.2 241.8,332.2 220.0,284.0" fill="none" stroke="#4d4d4d" stroke-width="0.8"/>
<text x="244.3" y="350.0" font-size="11" font-family='"Liberation Serif","Noto Serif CJK SC",serif' font-weight="500" fill="#333" text-anchor="start" textLength="98.9" lengthAdjust="spacingAndGlyphs">3.5×25平头自攻螺钉</text>
<polyline points="343.0,353.5 240.5,353.5 217.0,292.7" fill="none" stroke="#4d4d4d" stroke-width="0.8"/>
<g clip-path="url(#hc2)">
<line x1="409.7" y1="300.0" x2="590.5" y2="105.6" stroke="#3a3a3a" stroke-width="0.85" />
<line x1="431.1" y1="300.0" x2="611.9" y2="105.6" stroke="#555" stroke-width="0.765" />
<line x1="452.5" y1="300.0" x2="633.3" y2="105.6" stroke="#3a3a3a" stroke-width="0.85" />
<line x1="473.8" y1="300.0" x2="654.7" y2="105.6" stroke="#555" stroke-width="0.765" />
<line x1="495.2" y1="300.0" x2="676.1" y2="105.6" stroke="#3a3a3a" stroke-width="0.85" />
<line x1="516.6" y1="300.0" x2="697.4" y2="105.6" stroke="#555" stroke-width="0.765" />
<line x1="538.0" y1="300.0" x2="718.8" y2="105.6" stroke="#3a3a3a" stroke-width="0.85" />
<line x1="559.4" y1="300.0" x2="740.2" y2="105.6" stroke="#555" stroke-width="0.765" />
<line x1="580.7" y1="300.0" x2="761.6" y2="105.6" stroke="#3a3a3a" stroke-width="0.85" />
<line x1="602.1" y1="300.0" x2="783.0" y2="105.6" stroke="#555" stroke-width="0.765" />
<line x1="623.5" y1="300.0" x2="804.3" y2="105.6" stroke="#3a3a3a" stroke-width="0.85" />
<line x1="644.9" y1="300.0" x2="825.7" y2="105.6" stroke="#555" stroke-width="0.765" />
<line x1="666.3" y1="300.0" x2="847.1" y2="105.6" stroke="#3a3a3a" stroke-width="0.85" />
<line x1="687.6" y1="300.0" x2="868.5" y2="105.6" stroke="#555" stroke-width="0.765" />
<line x1="709.0" y1="300.0" x2="889.9" y2="105.6" stroke="#3a3a3a" stroke-width="0.85" />
<line x1="730.4" y1="300.0" x2="911.2" y2="105.6" stroke="#555" stroke-width="0.765" />
<line x1="751.8" y1="300.0" x2="932.6" y2="105.6" stroke="#3a3a3a" stroke-width="0.85" />
</g>
<line x1="585.0" y1="105.6" x2="585.0" y2="300.0" stroke="#4d4d4d" stroke-width="0.8" />
<line x1="585.0" y1="300.0" x2="766.6" y2="300.0" stroke="#4d4d4d" stroke-width="0.8" />
<polyline points="562.0,105.6 562.0,313.8 766.6,313.8" fill="none" stroke="#4d4d4d" stroke-width="0.8"/>
<polyline points="572.4,105.6 572.4,325.4 766.6,325.4" fill="none" stroke="#4d4d4d" stroke-width="0.8"/>
<rect x="549.4" y="105.6" width="5.1" height="232.0" fill="url(#stip2)" />
<rect x="549.4" y="332.3" width="217.2" height="5.3" fill="url(#stip2)" />
<polyline points="554.5,105.6 554.5,332.3 766.6,332.3" fill="none" stroke="#555" stroke-width="0.7"/>
<polyline points="549.4,105.6 549.4,337.7 766.6,337.7" fill="none" stroke="#2a2a2a" stroke-width="1.2"/>
<polygon points="589.0,130.7 588.7,133.5 586.4,131.8" fill="none" stroke="#555" stroke-width="0.6"/>
<polygon points="632.5,134.8 631.3,137.9 629.2,135.3" fill="none" stroke="#555" stroke-width="0.6"/>
<polygon points="647.1,135.6 644.3,138.0 643.6,134.4" fill="none" stroke="#555" stroke-width="0.6"/>
<polygon points="650.6,160.6 647.6,161.1 648.7,158.2" fill="none" stroke="#555" stroke-width="0.6"/>
<polygon points="596.3,177.6 597.9,181.4 593.8,180.9" fill="none" stroke="#555" stroke-width="0.6"/>
<polygon points="633.3,183.8 629.2,184.6 630.5,180.7" fill="none" stroke="#555" stroke-width="0.6"/>
<polygon points="641.7,182.8 642.6,186.7 638.7,185.5" fill="none" stroke="#555" stroke-width="0.6"/>
<polygon points="594.3,223.4 591.3,226.3 590.3,222.3" fill="none" stroke="#555" stroke-width="0.6"/>
<polygon points="604.0,227.7 605.1,229.7 602.8,229.6" fill="none" stroke="#555" stroke-width="0.6"/>
<polygon points="618.5,228.5 615.2,231.4 614.3,227.1" fill="none" stroke="#555" stroke-width="0.6"/>
<polygon points="648.3,234.4 649.2,237.1 646.5,236.5" fill="none" stroke="#555" stroke-width="0.6"/>
<polygon points="656.7,236.7 656.8,239.3 654.5,238.1" fill="none" stroke="#555" stroke-width="0.6"/>
<polygon points="613.5,253.3 612.7,257.2 609.7,254.5" fill="none" stroke="#555" stroke-width="0.6"/>
<polygon points="652.4,255.5 649.9,256.0 650.7,253.5" fill="none" stroke="#555" stroke-width="0.6"/>
<polygon points="600.8,273.8 601.5,277.8 597.7,276.4" fill="none" stroke="#555" stroke-width="0.6"/>
<polygon points="614.4,278.3 611.4,281.4 610.2,277.3" fill="none" stroke="#555" stroke-width="0.6"/>
<polygon points="694.3,236.6 691.2,239.2 690.5,235.2" fill="none" stroke="#555" stroke-width="0.6"/>
<polygon points="707.5,236.2 703.6,238.0 703.9,233.8" fill="none" stroke="#555" stroke-width="0.6"/>
<polygon points="718.0,242.8 718.4,246.9 714.6,245.3" fill="none" stroke="#555" stroke-width="0.6"/>
<polygon points="738.0,241.0 735.9,244.2 734.2,240.8" fill="none" stroke="#555" stroke-width="0.6"/>
<polygon points="740.8,259.6 739.3,263.2 736.9,260.1" fill="none" stroke="#555" stroke-width="0.6"/>
<polygon points="692.2,282.0 689.7,285.4 688.0,281.5" fill="none" stroke="#555" stroke-width="0.6"/>
<polygon points="698.8,287.5 698.9,290.4 696.4,289.1" fill="none" stroke="#555" stroke-width="0.6"/>
<polygon points="745.3,287.2 744.0,289.5 742.7,287.3" fill="none" stroke="#555" stroke-width="0.6"/>
<polygon points="658.1,281.2 657.1,283.4 655.8,281.4" fill="none" stroke="#555" stroke-width="0.6"/>
<polygon points="677.3,256.2 676.0,258.5 674.7,256.3" fill="none" stroke="#555" stroke-width="0.6"/>
<polygon points="559.0,145.1 559.8,146.4 558.2,146.4" fill="none" stroke="#555" stroke-width="0.6"/>
<polygon points="559.0,162.1 559.8,163.4 558.2,163.4" fill="none" stroke="#555" stroke-width="0.6"/>
<polygon points="559.0,224.1 559.8,225.4 558.2,225.4" fill="none" stroke="#555" stroke-width="0.6"/>
<polygon points="559.0,240.1 559.8,241.4 558.2,241.4" fill="none" stroke="#555" stroke-width="0.6"/>
<polygon points="559.0,257.1 559.8,258.4 558.2,258.4" fill="none" stroke="#555" stroke-width="0.6"/>
<polygon points="559.0,261.1 559.8,262.4 558.2,262.4" fill="none" stroke="#555" stroke-width="0.6"/>
<polygon points="623.9,329.0 622.5,329.8 622.5,328.2" fill="none" stroke="#555" stroke-width="0.6"/>
<polygon points="637.9,329.0 636.5,329.8 636.5,328.2" fill="none" stroke="#555" stroke-width="0.6"/>
<polygon points="661.9,329.0 660.5,329.8 660.5,328.2" fill="none" stroke="#555" stroke-width="0.6"/>
<polygon points="675.9,329.0 674.5,329.8 674.5,328.2" fill="none" stroke="#555" stroke-width="0.6"/>
<polygon points="730.9,329.0 729.5,329.8 729.5,328.2" fill="none" stroke="#555" stroke-width="0.6"/>
<polygon points="744.9,329.0 743.5,329.8 743.5,328.2" fill="none" stroke="#555" stroke-width="0.6"/>
<polygon points="608.9,329.0 607.5,329.8 607.5,328.2" fill="none" stroke="#555" stroke-width="0.6"/>
<rect x="586.5" y="160.8" width="12" height="3" rx="1" fill="#fff" stroke="#333" stroke-width="0.7"/>
<rect x="598.1" y="161.2" width="2.2" height="2.2" fill="#444" />
<line x1="587.0" y1="162.3" x2="581.5" y2="162.3" stroke="#222" stroke-width="0.8" />
<ellipse cx="583.6" cy="162.3" rx="2.3" ry="1.8" fill="#1a1a1a"/>
<rect x="586.5" y="187.1" width="12" height="3" rx="1" fill="#fff" stroke="#333" stroke-width="0.7"/>
<rect x="598.1" y="187.5" width="2.2" height="2.2" fill="#444" />
<line x1="587.0" y1="188.6" x2="581.5" y2="188.6" stroke="#222" stroke-width="0.8" />
<ellipse cx="583.6" cy="188.6" rx="2.3" ry="1.8" fill="#1a1a1a"/>
<rect x="586.5" y="245.5" width="12" height="3" rx="1" fill="#fff" stroke="#333" stroke-width="0.7"/>
<rect x="598.1" y="245.9" width="2.2" height="2.2" fill="#444" />
<line x1="587.0" y1="247.0" x2="581.5" y2="247.0" stroke="#222" stroke-width="0.8" />
<ellipse cx="583.6" cy="247.0" rx="2.3" ry="1.8" fill="#1a1a1a"/>
<rect x="586.5" y="271.2" width="12" height="3" rx="1" fill="#fff" stroke="#333" stroke-width="0.7"/>
<rect x="598.1" y="271.6" width="2.2" height="2.2" fill="#444" />
<line x1="587.0" y1="272.7" x2="581.5" y2="272.7" stroke="#222" stroke-width="0.8" />
<ellipse cx="583.6" cy="272.7" rx="2.3" ry="1.8" fill="#1a1a1a"/>
<rect x="572.6" y="168.4" width="12.1" height="14.8" fill="#fff" stroke="#2a2a2a" stroke-width="1.0"/>
<rect x="572.6" y="170.2" width="12.1" height="11.2" fill="none" stroke="#444" stroke-width="0.6"/>
<line x1="584.2" y1="168.4" x2="584.2" y2="183.2" stroke="#222" stroke-width="1.6" />
<line x1="579.3" y1="175.8" x2="570.1" y2="175.8" stroke="#111" stroke-width="1.7" />
<polygon points="572.3,173.5 572.3,178.1 569.0,175.8" fill="#111"/>
<rect x="572.6" y="252.4" width="12.1" height="14.8" fill="#fff" stroke="#2a2a2a" stroke-width="1.0"/>
<rect x="572.6" y="254.2" width="12.1" height="11.2" fill="none" stroke="#444" stroke-width="0.6"/>
<line x1="584.2" y1="252.4" x2="584.2" y2="267.2" stroke="#222" stroke-width="1.6" />
<line x1="579.3" y1="259.8" x2="570.1" y2="259.8" stroke="#111" stroke-width="1.7" />
<polygon points="572.3,257.5 572.3,262.1 569.0,259.8" fill="#111"/>
<rect x="551.0" y="167.5" width="11.0" height="16.0" fill="#fff" stroke="#4d4d4d" stroke-width="0.6"/>
<line x1="556.7" y1="167.5" x2="556.7" y2="183.5" stroke="#111" stroke-width="2.2" />
<line x1="550.5" y1="175.5" x2="559.2" y2="175.5" stroke="#111" stroke-width="2.2" />
<rect x="551.0" y="283.8" width="11.0" height="16.0" fill="#fff" stroke="#4d4d4d" stroke-width="0.6"/>
<line x1="556.7" y1="283.8" x2="556.7" y2="299.8" stroke="#111" stroke-width="2.2" />
<line x1="550.5" y1="291.8" x2="559.2" y2="291.8" stroke="#111" stroke-width="2.2" />
<rect x="610.5" y="286.5" width="3" height="12" rx="1" fill="#fff" stroke="#333" stroke-width="0.7"/>
<rect x="610.9" y="285.5" width="2.2" height="2.2" fill="#444" />
<line x1="612.0" y1="298.0" x2="612.0" y2="303.5" stroke="#222" stroke-width="0.8" />
<ellipse cx="612.0" cy="301.4" rx="1.8" ry="2.3" fill="#1a1a1a"/>
<rect x="634.5" y="286.5" width="3" height="12" rx="1" fill="#fff" stroke="#333" stroke-width="0.7"/>
<rect x="634.9" y="285.5" width="2.2" height="2.2" fill="#444" />
<line x1="636.0" y1="298.0" x2="636.0" y2="303.5" stroke="#222" stroke-width="0.8" />
<ellipse cx="636.0" cy="301.4" rx="1.8" ry="2.3" fill="#1a1a1a"/>
<rect x="687.0" y="286.5" width="3" height="12" rx="1" fill="#fff" stroke="#333" stroke-width="0.7"/>
<rect x="687.4" y="285.5" width="2.2" height="2.2" fill="#444" />
<line x1="688.5" y1="298.0" x2="688.5" y2="303.5" stroke="#222" stroke-width="0.8" />
<ellipse cx="688.5" cy="301.4" rx="1.8" ry="2.3" fill="#1a1a1a"/>
<rect x="711.5" y="286.5" width="3" height="12" rx="1" fill="#fff" stroke="#333" stroke-width="0.7"/>
<rect x="711.9" y="285.5" width="2.2" height="2.2" fill="#444" />
<line x1="713.0" y1="298.0" x2="713.0" y2="303.5" stroke="#222" stroke-width="0.8" />
<ellipse cx="713.0" cy="301.4" rx="1.8" ry="2.3" fill="#1a1a1a"/>
<rect x="617.3" y="300.0" width="13.2" height="13.8" fill="#fff" stroke="#2a2a2a" stroke-width="1.0"/>
<rect x="619.1" y="300.0" width="9.6" height="13.8" fill="none" stroke="#444" stroke-width="0.6"/>
<line x1="617.3" y1="300.5" x2="630.5" y2="300.5" stroke="#333" stroke-width="1.4" />
<line x1="623.9" y1="306.2" x2="623.9" y2="316.3" stroke="#111" stroke-width="1.7" />
<polygon points="621.6,314.1 626.2,314.1 623.9,317.4" fill="#111"/>
<rect x="694.6" y="300.0" width="13.2" height="13.8" fill="#fff" stroke="#2a2a2a" stroke-width="1.0"/>
<rect x="696.4" y="300.0" width="9.6" height="13.8" fill="none" stroke="#444" stroke-width="0.6"/>
<line x1="694.6" y1="300.5" x2="707.8" y2="300.5" stroke="#333" stroke-width="1.4" />
<line x1="701.2" y1="306.2" x2="701.2" y2="316.3" stroke="#111" stroke-width="1.7" />
<polygon points="698.9,314.1 703.5,314.1 701.2,317.4" fill="#111"/>
<rect x="585.3" y="325.4" width="15.0" height="12.2" fill="#fff" stroke="#4d4d4d" stroke-width="0.6"/>
<line x1="584.8" y1="331.7" x2="600.8" y2="331.7" stroke="#111" stroke-width="2.2" />
<line x1="592.8" y1="328.4" x2="592.8" y2="337.6" stroke="#111" stroke-width="2.2" />
<rect x="694.3" y="325.4" width="13.3" height="12.2" fill="#fff" stroke="#4d4d4d" stroke-width="0.6"/>
<line x1="693.8" y1="331.7" x2="708.1" y2="331.7" stroke="#111" stroke-width="2.2" />
<line x1="700.9" y1="328.4" x2="700.9" y2="337.6" stroke="#111" stroke-width="2.2" />
<line x1="550.0" y1="325.3" x2="558.3" y2="325.3" stroke="#111" stroke-width="1.8" />
<line x1="561.0" y1="329.0" x2="561.0" y2="337.2" stroke="#111" stroke-width="1.8" />
<text x="489.3" y="181.0" font-size="7.4" font-family='"Liberation Serif","Noto Serif CJK SC",serif' font-weight="500" fill="#333" text-anchor="start" textLength="36.8" lengthAdjust="spacingAndGlyphs">透声涂料饰面</text>
<polyline points="486.0,183.1 550.0,183.1" fill="none" stroke="#4d4d4d" stroke-width="0.7"/>
<text x="484.5" y="197.4" font-size="7.2" font-family='"Liberation Serif","Noto Serif CJK SC",serif' font-weight="600" fill="#333" text-anchor="start" textLength="41.6" lengthAdjust="spacingAndGlyphs">陶晶砂吸声板</text>
<polyline points="486.0,199.5 550.0,199.5" fill="none" stroke="#4d4d4d" stroke-width="0.7"/>
<text x="747.1" y="209.4" font-size="7.4" font-family='"Liberation Serif","Noto Serif CJK SC",serif' font-weight="500" fill="#333" text-anchor="start" textLength="12.1" lengthAdjust="spacingAndGlyphs">方钢</text>
<polyline points="761.0,212.0 724.2,212.0 704.2,299.0" fill="none" stroke="#4d4d4d" stroke-width="0.7"/>
<text x="557.5" y="356.6" font-size="7.4" font-family='"Liberation Serif","Noto Serif CJK SC",serif' font-weight="500" fill="#333" text-anchor="start" textLength="51.1" lengthAdjust="spacingAndGlyphs">1.25x125x2角钢固定</text>
<polyline points="555.4,333.0 555.4,358.6 609.0,358.6" fill="none" stroke="#4d4d4d" stroke-width="0.7"/>
<text x="618.0" y="356.6" font-size="7.4" font-family='"Liberation Serif","Noto Serif CJK SC",serif' font-weight="500" fill="#333" text-anchor="start" textLength="25.1" lengthAdjust="spacingAndGlyphs">卡式龙骨</text>
<polyline points="611.9,317.0 611.9,358.6 644.0,358.6" fill="none" stroke="#4d4d4d" stroke-width="0.7"/>
<text x="654.5" y="356.6" font-size="7.4" font-family='"Liberation Serif","Noto Serif CJK SC",serif' font-weight="500" fill="#333" text-anchor="start" textLength="32.4" lengthAdjust="spacingAndGlyphs">50覆面龙骨</text>
<polyline points="653.0,358.6 691.0,358.6 694.0,337.0" fill="none" stroke="#4d4d4d" stroke-width="0.7"/>
<text x="714.9" y="356.6" font-size="7.4" font-family='"Liberation Serif","Noto Serif CJK SC",serif' font-weight="500" fill="#333" text-anchor="start" textLength="36.9" lengthAdjust="spacingAndGlyphs">双面结构胶带</text>
<polyline points="752.7,358.6 712.6,358.6 704.0,337.0" fill="none" stroke="#4d4d4d" stroke-width="0.7"/>
<g clip-path="url(#hc3)">
<line x1="-162.4" y1="718.7" x2="104.0" y2="430.5" stroke="#3a3a3a" stroke-width="0.85" />
<line x1="-142.8" y1="718.7" x2="123.6" y2="430.5" stroke="#555" stroke-width="0.765" />
<line x1="-123.2" y1="718.7" x2="143.2" y2="430.5" stroke="#3a3a3a" stroke-width="0.85" />
<line x1="-103.6" y1="718.7" x2="162.8" y2="430.5" stroke="#555" stroke-width="0.765" />
<line x1="-84.0" y1="718.7" x2="182.4" y2="430.5" stroke="#3a3a3a" stroke-width="0.85" />
<line x1="-64.4" y1="718.7" x2="202.0" y2="430.5" stroke="#555" stroke-width="0.765" />
<line x1="-44.8" y1="718.7" x2="221.6" y2="430.5" stroke="#3a3a3a" stroke-width="0.85" />
<line x1="-25.2" y1="718.7" x2="241.2" y2="430.5" stroke="#555" stroke-width="0.765" />
<line x1="-5.6" y1="718.7" x2="260.8" y2="430.5" stroke="#3a3a3a" stroke-width="0.85" />
<line x1="14.0" y1="718.7" x2="280.4" y2="430.5" stroke="#555" stroke-width="0.765" />
<line x1="33.6" y1="718.7" x2="300.0" y2="430.5" stroke="#3a3a3a" stroke-width="0.85" />
<line x1="53.2" y1="718.7" x2="319.6" y2="430.5" stroke="#555" stroke-width="0.765" />
<line x1="72.8" y1="718.7" x2="339.2" y2="430.5" stroke="#3a3a3a" stroke-width="0.85" />
<line x1="92.4" y1="718.7" x2="358.8" y2="430.5" stroke="#555" stroke-width="0.765" />
<line x1="112.0" y1="718.7" x2="378.4" y2="430.5" stroke="#3a3a3a" stroke-width="0.85" />
<line x1="131.6" y1="718.7" x2="398.0" y2="430.5" stroke="#555" stroke-width="0.765" />
<line x1="151.2" y1="718.7" x2="417.6" y2="430.5" stroke="#3a3a3a" stroke-width="0.85" />
<line x1="170.8" y1="718.7" x2="437.2" y2="430.5" stroke="#555" stroke-width="0.765" />
<line x1="190.4" y1="718.7" x2="456.8" y2="430.5" stroke="#3a3a3a" stroke-width="0.85" />
<line x1="210.0" y1="718.7" x2="476.4" y2="430.5" stroke="#555" stroke-width="0.765" />
<line x1="229.6" y1="718.7" x2="496.0" y2="430.5" stroke="#3a3a3a" stroke-width="0.85" />
<line x1="249.2" y1="718.7" x2="515.6" y2="430.5" stroke="#555" stroke-width="0.765" />
<line x1="268.8" y1="718.7" x2="535.2" y2="430.5" stroke="#3a3a3a" stroke-width="0.85" />
<line x1="288.4" y1="718.7" x2="554.8" y2="430.5" stroke="#555" stroke-width="0.765" />
<line x1="308.0" y1="718.7" x2="574.4" y2="430.5" stroke="#3a3a3a" stroke-width="0.85" />
<line x1="327.6" y1="718.7" x2="594.0" y2="430.5" stroke="#555" stroke-width="0.765" />
<line x1="347.2" y1="718.7" x2="613.6" y2="430.5" stroke="#3a3a3a" stroke-width="0.85" />
</g>
<polyline points="151.8,718.7 151.8,502.7 353.3,502.7" fill="none" stroke="#4d4d4d" stroke-width="0.8"/>
<polyline points="353.3,514.8 174.8,514.8 174.8,525.5 353.3,525.5" fill="none" stroke="#4d4d4d" stroke-width="0.8"/>
<polyline points="163.7,718.7 163.7,519.8 174.0,519.8 174.0,718.7" fill="none" stroke="#4d4d4d" stroke-width="0.8"/>
<rect x="179.6" y="532.0" width="173.7" height="5.6" fill="url(#stip2)" />
<rect x="179.6" y="532.0" width="5.4" height="186.7" fill="url(#stip2)" />
<polyline points="179.6,718.7 179.6,532.0 353.3,532.0" fill="none" stroke="#555" stroke-width="0.7"/>
<polyline points="185.0,718.7 185.0,537.8 353.3,537.8" fill="none" stroke="#2a2a2a" stroke-width="1.3"/>
<polygon points="91.8,435.2 89.8,437.9 88.4,434.9" fill="none" stroke="#555" stroke-width="0.6"/>
<polygon points="125.0,431.6 127.1,435.2 122.9,435.2" fill="none" stroke="#555" stroke-width="0.6"/>
<polygon points="133.0,438.7 131.2,442.4 128.9,438.9" fill="none" stroke="#555" stroke-width="0.6"/>
<polygon points="142.0,449.6 139.3,451.9 138.7,448.4" fill="none" stroke="#555" stroke-width="0.6"/>
<polygon points="172.7,441.3 171.6,445.3 168.7,442.4" fill="none" stroke="#555" stroke-width="0.6"/>
<polygon points="187.7,446.8 184.5,447.1 185.8,444.2" fill="none" stroke="#555" stroke-width="0.6"/>
<polygon points="213.4,446.7 211.6,448.3 211.0,446.0" fill="none" stroke="#555" stroke-width="0.6"/>
<polygon points="219.1,452.9 220.8,456.2 217.1,456.0" fill="none" stroke="#555" stroke-width="0.6"/>
<polygon points="95.1,469.7 92.2,471.9 91.7,468.4" fill="none" stroke="#555" stroke-width="0.6"/>
<polygon points="99.6,478.1 98.9,482.4 95.5,479.6" fill="none" stroke="#555" stroke-width="0.6"/>
<polygon points="175.3,472.8 172.9,476.6 170.8,472.7" fill="none" stroke="#555" stroke-width="0.6"/>
<polygon points="140.8,484.6 137.6,485.3 138.6,482.1" fill="none" stroke="#555" stroke-width="0.6"/>
<polygon points="127.3,493.9 125.4,495.2 125.3,492.9" fill="none" stroke="#555" stroke-width="0.6"/>
<polygon points="134.4,501.4 133.7,505.0 130.9,502.6" fill="none" stroke="#555" stroke-width="0.6"/>
<polygon points="220.7,490.3 219.7,494.3 216.7,491.4" fill="none" stroke="#555" stroke-width="0.6"/>
<polygon points="107.7,524.1 105.9,526.9 104.4,524.0" fill="none" stroke="#555" stroke-width="0.6"/>
<polygon points="114.0,534.9 114.3,538.9 110.7,537.2" fill="none" stroke="#555" stroke-width="0.6"/>
<polygon points="148.4,560.8 147.3,563.8 145.3,561.3" fill="none" stroke="#555" stroke-width="0.6"/>
<polygon points="115.0,571.3 111.7,572.6 112.3,569.1" fill="none" stroke="#555" stroke-width="0.6"/>
<polygon points="101.7,581.3 98.9,582.3 99.4,579.4" fill="none" stroke="#555" stroke-width="0.6"/>
<polygon points="142.6,573.1 141.0,575.8 139.4,573.1" fill="none" stroke="#555" stroke-width="0.6"/>
<polygon points="146.4,569.2 145.0,571.7 143.6,569.2" fill="none" stroke="#555" stroke-width="0.6"/>
<polygon points="213.5,445.5 210.2,448.4 209.3,444.1" fill="none" stroke="#555" stroke-width="0.6"/>
<polygon points="221.5,450.2 220.8,454.2 217.7,451.6" fill="none" stroke="#555" stroke-width="0.6"/>
<polygon points="247.0,454.6 246.7,457.6 244.3,455.8" fill="none" stroke="#555" stroke-width="0.6"/>
<polygon points="253.0,449.5 250.4,452.0 249.6,448.5" fill="none" stroke="#555" stroke-width="0.6"/>
<polygon points="291.2,451.7 292.9,455.3 288.9,455.0" fill="none" stroke="#555" stroke-width="0.6"/>
<polygon points="301.1,461.6 297.4,462.5 298.5,458.8" fill="none" stroke="#555" stroke-width="0.6"/>
<polygon points="305.2,464.0 306.6,467.2 303.2,466.8" fill="none" stroke="#555" stroke-width="0.6"/>
<polygon points="331.0,456.3 332.5,458.9 329.5,458.8" fill="none" stroke="#555" stroke-width="0.6"/>
<polygon points="348.4,440.5 345.8,441.0 346.7,438.5" fill="none" stroke="#555" stroke-width="0.6"/>
<polygon points="269.1,478.6 266.3,481.0 265.6,477.4" fill="none" stroke="#555" stroke-width="0.6"/>
<polygon points="221.2,491.8 217.2,492.5 218.6,488.7" fill="none" stroke="#555" stroke-width="0.6"/>
<polygon points="261.0,494.4 258.5,497.0 257.5,493.5" fill="none" stroke="#555" stroke-width="0.6"/>
<polygon points="336.1,483.8 333.2,485.9 332.7,482.3" fill="none" stroke="#555" stroke-width="0.6"/>
<polygon points="256.1,478.7 253.2,480.9 252.7,477.4" fill="none" stroke="#555" stroke-width="0.6"/>
<polygon points="123.6,580.7 121.5,582.5 121.0,579.8" fill="none" stroke="#555" stroke-width="0.6"/>
<polygon points="133.9,603.1 131.0,604.6 131.1,601.3" fill="none" stroke="#555" stroke-width="0.6"/>
<polygon points="87.5,622.7 87.9,625.1 85.6,624.2" fill="none" stroke="#555" stroke-width="0.6"/>
<polygon points="90.3,632.1 88.3,633.1 88.4,630.8" fill="none" stroke="#555" stroke-width="0.6"/>
<polygon points="121.4,647.5 118.2,650.4 117.4,646.1" fill="none" stroke="#555" stroke-width="0.6"/>
<polygon points="91.8,659.3 88.9,660.4 89.4,657.3" fill="none" stroke="#555" stroke-width="0.6"/>
<polygon points="131.1,659.1 128.7,662.3 127.2,658.6" fill="none" stroke="#555" stroke-width="0.6"/>
<polygon points="106.0,690.7 105.7,693.5 103.4,691.8" fill="none" stroke="#555" stroke-width="0.6"/>
<polygon points="98.1,698.5 97.7,701.7 95.2,699.7" fill="none" stroke="#555" stroke-width="0.6"/>
<polygon points="139.8,705.6 137.5,707.8 136.7,704.6" fill="none" stroke="#555" stroke-width="0.6"/>
<polygon points="139.3,713.5 141.0,717.5 136.7,717.0" fill="none" stroke="#555" stroke-width="0.6"/>
<polygon points="267.2,435.0 268.7,438.2 265.2,437.9" fill="none" stroke="#555" stroke-width="0.6"/>
<polygon points="221.9,529.0 220.6,529.8 220.6,528.2" fill="none" stroke="#555" stroke-width="0.6"/>
<polygon points="232.9,529.0 231.6,529.8 231.6,528.2" fill="none" stroke="#555" stroke-width="0.6"/>
<polygon points="253.9,529.0 252.6,529.8 252.6,528.2" fill="none" stroke="#555" stroke-width="0.6"/>
<polygon points="266.9,529.0 265.6,529.8 265.6,528.2" fill="none" stroke="#555" stroke-width="0.6"/>
<polygon points="322.9,529.0 321.6,529.8 321.6,528.2" fill="none" stroke="#555" stroke-width="0.6"/>
<polygon points="333.9,529.0 332.6,529.8 332.6,528.2" fill="none" stroke="#555" stroke-width="0.6"/>
<polygon points="177.0,574.1 177.8,575.5 176.2,575.5" fill="none" stroke="#555" stroke-width="0.6"/>
<polygon points="177.0,599.1 177.8,600.5 176.2,600.5" fill="none" stroke="#555" stroke-width="0.6"/>
<polygon points="177.0,612.1 177.8,613.5 176.2,613.5" fill="none" stroke="#555" stroke-width="0.6"/>
<polygon points="177.0,676.1 177.8,677.5 176.2,677.5" fill="none" stroke="#555" stroke-width="0.6"/>
<polygon points="177.0,689.1 177.8,690.5 176.2,690.5" fill="none" stroke="#555" stroke-width="0.6"/>
<rect x="178.5" y="489.2" width="3" height="12" rx="1" fill="#fff" stroke="#333" stroke-width="0.7"/>
<rect x="178.9" y="488.2" width="2.2" height="2.2" fill="#444" />
<line x1="180.0" y1="500.7" x2="180.0" y2="506.2" stroke="#222" stroke-width="0.8" />
<ellipse cx="180.0" cy="504.1" rx="1.8" ry="2.3" fill="#1a1a1a"/>
<rect x="201.0" y="489.2" width="3" height="12" rx="1" fill="#fff" stroke="#333" stroke-width="0.7"/>
<rect x="201.4" y="488.2" width="2.2" height="2.2" fill="#444" />
<line x1="202.5" y1="500.7" x2="202.5" y2="506.2" stroke="#222" stroke-width="0.8" />
<ellipse cx="202.5" cy="504.1" rx="1.8" ry="2.3" fill="#1a1a1a"/>
<rect x="280.5" y="489.2" width="3" height="12" rx="1" fill="#fff" stroke="#333" stroke-width="0.7"/>
<rect x="280.9" y="488.2" width="2.2" height="2.2" fill="#444" />
<line x1="282.0" y1="500.7" x2="282.0" y2="506.2" stroke="#222" stroke-width="0.8" />
<ellipse cx="282.0" cy="504.1" rx="1.8" ry="2.3" fill="#1a1a1a"/>
<rect x="303.0" y="489.2" width="3" height="12" rx="1" fill="#fff" stroke="#333" stroke-width="0.7"/>
<rect x="303.4" y="488.2" width="2.2" height="2.2" fill="#444" />
<line x1="304.5" y1="500.7" x2="304.5" y2="506.2" stroke="#222" stroke-width="0.8" />
<ellipse cx="304.5" cy="504.1" rx="1.8" ry="2.3" fill="#1a1a1a"/>
<rect x="185.4" y="502.7" width="12.7" height="12.1" fill="#fff" stroke="#2a2a2a" stroke-width="1.0"/>
<rect x="187.2" y="502.7" width="9.1" height="12.1" fill="none" stroke="#444" stroke-width="0.6"/>
<line x1="185.4" y1="503.2" x2="198.1" y2="503.2" stroke="#333" stroke-width="1.4" />
<line x1="191.8" y1="508.1" x2="191.8" y2="517.3" stroke="#111" stroke-width="1.7" />
<polygon points="189.4,515.1 194.1,515.1 191.8,518.4" fill="#111"/>
<rect x="287.0" y="502.7" width="12.9" height="12.1" fill="#fff" stroke="#2a2a2a" stroke-width="1.0"/>
<rect x="288.8" y="502.7" width="9.3" height="12.1" fill="none" stroke="#444" stroke-width="0.6"/>
<line x1="287.0" y1="503.2" x2="299.9" y2="503.2" stroke="#333" stroke-width="1.4" />
<line x1="293.4" y1="508.1" x2="293.4" y2="517.3" stroke="#111" stroke-width="1.7" />
<polygon points="291.1,515.1 295.8,515.1 293.4,518.4" fill="#111"/>
<rect x="187.0" y="525.5" width="12.5" height="12.1" fill="#fff" stroke="#4d4d4d" stroke-width="0.6"/>
<line x1="186.5" y1="531.8" x2="200.0" y2="531.8" stroke="#111" stroke-width="2.2" />
<line x1="193.2" y1="528.5" x2="193.2" y2="537.6" stroke="#111" stroke-width="2.2" />
<rect x="286.8" y="525.5" width="13.2" height="12.1" fill="#fff" stroke="#4d4d4d" stroke-width="0.6"/>
<line x1="286.3" y1="531.8" x2="300.5" y2="531.8" stroke="#111" stroke-width="2.2" />
<line x1="293.4" y1="528.5" x2="293.4" y2="537.6" stroke="#111" stroke-width="2.2" />
<rect x="138.3" y="525.0" width="12" height="3" rx="1" fill="#fff" stroke="#333" stroke-width="0.7"/>
<rect x="136.4" y="525.4" width="2.2" height="2.2" fill="#444" />
<line x1="149.8" y1="526.5" x2="155.3" y2="526.5" stroke="#222" stroke-width="0.8" />
<ellipse cx="153.2" cy="526.5" rx="2.3" ry="1.8" fill="#1a1a1a"/>
<rect x="138.3" y="549.0" width="12" height="3" rx="1" fill="#fff" stroke="#333" stroke-width="0.7"/>
<rect x="136.4" y="549.4" width="2.2" height="2.2" fill="#444" />
<line x1="149.8" y1="550.5" x2="155.3" y2="550.5" stroke="#222" stroke-width="0.8" />
<ellipse cx="153.2" cy="550.5" rx="2.3" ry="1.8" fill="#1a1a1a"/>
<rect x="138.3" y="634.9" width="12" height="3" rx="1" fill="#fff" stroke="#333" stroke-width="0.7"/>
<rect x="136.4" y="635.3" width="2.2" height="2.2" fill="#444" />
<line x1="149.8" y1="636.4" x2="155.3" y2="636.4" stroke="#222" stroke-width="0.8" />
<ellipse cx="153.2" cy="636.4" rx="2.3" ry="1.8" fill="#1a1a1a"/>
<rect x="138.3" y="658.4" width="12" height="3" rx="1" fill="#fff" stroke="#333" stroke-width="0.7"/>
<rect x="136.4" y="658.8" width="2.2" height="2.2" fill="#444" />
<line x1="149.8" y1="659.9" x2="155.3" y2="659.9" stroke="#222" stroke-width="0.8" />
<ellipse cx="153.2" cy="659.9" rx="2.3" ry="1.8" fill="#1a1a1a"/>
<rect x="151.8" y="533.0" width="11.6" height="12.2" fill="#fff" stroke="#2a2a2a" stroke-width="1.0"/>
<rect x="151.8" y="534.8" width="11.6" height="8.6" fill="none" stroke="#444" stroke-width="0.6"/>
<line x1="152.3" y1="533.0" x2="152.3" y2="545.2" stroke="#222" stroke-width="1.6" />
<line x1="157.0" y1="539.1" x2="165.9" y2="539.1" stroke="#111" stroke-width="1.7" />
<polygon points="163.7,536.8 163.7,541.4 167.0,539.1" fill="#111"/>
<rect x="151.8" y="642.0" width="11.6" height="12.6" fill="#fff" stroke="#2a2a2a" stroke-width="1.0"/>
<rect x="151.8" y="643.8" width="11.6" height="9.0" fill="none" stroke="#444" stroke-width="0.6"/>
<line x1="152.3" y1="642.0" x2="152.3" y2="654.6" stroke="#222" stroke-width="1.6" />
<line x1="157.0" y1="648.3" x2="165.9" y2="648.3" stroke="#111" stroke-width="1.7" />
<polygon points="163.7,646.0 163.7,650.6 167.0,648.3" fill="#111"/>
<rect x="174.0" y="534.0" width="11.0" height="12.5" fill="#fff" stroke="#4d4d4d" stroke-width="0.6"/>
<line x1="179.3" y1="534.0" x2="179.3" y2="546.5" stroke="#111" stroke-width="2.2" />
<line x1="176.8" y1="540.2" x2="185.5" y2="540.2" stroke="#111" stroke-width="2.2" />
<rect x="174.0" y="641.0" width="11.0" height="14.5" fill="#fff" stroke="#4d4d4d" stroke-width="0.6"/>
<line x1="179.3" y1="641.0" x2="179.3" y2="655.5" stroke="#111" stroke-width="2.2" />
<line x1="176.8" y1="648.2" x2="185.5" y2="648.2" stroke="#111" stroke-width="2.2" />
<text x="215.6" y="554.8" font-size="6.0" font-family='"Liberation Serif","Noto Serif CJK SC",serif' font-weight="500" fill="#333" text-anchor="start" textLength="23.2" lengthAdjust="spacingAndGlyphs">卡式龙骨</text>
<polyline points="210.1,517.8 210.1,556.8 239.3,556.8" fill="none" stroke="#4d4d4d" stroke-width="0.7"/>
<text x="251.1" y="554.8" font-size="6.0" font-family='"Liberation Serif","Noto Serif CJK SC",serif' font-weight="500" fill="#333" text-anchor="start" textLength="29.1" lengthAdjust="spacingAndGlyphs">50覆面龙骨</text>
<polyline points="249.0,556.8 284.7,556.8 286.5,537.0" fill="none" stroke="#4d4d4d" stroke-width="0.7"/>
<text x="306.6" y="554.8" font-size="6.0" font-family='"Liberation Serif","Noto Serif CJK SC",serif' font-weight="500" fill="#333" text-anchor="start" textLength="34.7" lengthAdjust="spacingAndGlyphs">双面结构胶带</text>
<polyline points="342.3,556.8 304.0,556.8 296.4,537.0" fill="none" stroke="#4d4d4d" stroke-width="0.7"/>
<text x="210.3" y="605.2" font-size="6.0" font-family='"Liberation Serif","Noto Serif CJK SC",serif' font-weight="500" fill="#333" text-anchor="start" textLength="35.5" lengthAdjust="spacingAndGlyphs">透声涂料饰面</text>
<polyline points="184.8,607.2 247.3,607.2" fill="none" stroke="#4d4d4d" stroke-width="0.7"/>
<text x="200.1" y="625.2" font-size="7.2" font-family='"Liberation Serif","Noto Serif CJK SC",serif' font-weight="600" fill="#333" text-anchor="start" textLength="45.8" lengthAdjust="spacingAndGlyphs">陶晶砂吸声板</text>
<polyline points="183.0,627.2 247.3,627.2" fill="none" stroke="#4d4d4d" stroke-width="0.7"/>
<text x="195.5" y="660.5" font-size="6.0" font-family='"Liberation Serif","Noto Serif CJK SC",serif' font-weight="500" fill="#333" text-anchor="start" textLength="55.0" lengthAdjust="spacingAndGlyphs">3.5×25平头自攻螺钉</text>
<polyline points="252.4,662.5 192.4,662.5 185.3,647.6" fill="none" stroke="#4d4d4d" stroke-width="0.7"/>
<text x="240.2" y="679.3" font-size="6.0" font-family='"Liberation Serif","Noto Serif CJK SC",serif' font-weight="500" fill="#333" text-anchor="start" textLength="10.3" lengthAdjust="spacingAndGlyphs">方钢</text>
<polyline points="252.4,680.6 193.5,680.6 164.0,652.4" fill="none" stroke="#4d4d4d" stroke-width="0.7"/>
</svg>
</body>
</html>
